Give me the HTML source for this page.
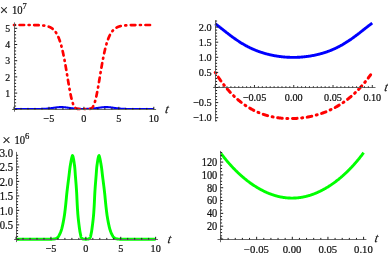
<!DOCTYPE html>
<html><head><meta charset="utf-8"><style>
html,body{margin:0;padding:0;background:#fff;}
body{width:388px;height:255px;overflow:hidden;}
svg{display:block;font-family:"Liberation Serif",serif;will-change:transform;}
</style></head><body>
<svg width="388" height="255" viewBox="0 0 388 255">
<path d="M14.00,109.00 L14.20,109.00 L14.40,109.00 L14.60,109.00 L14.80,109.00 L15.00,109.00 L15.20,109.00 L15.40,109.00 L15.60,109.00 L15.80,109.00 L16.00,109.00 L16.20,109.00 L16.40,109.00 L16.60,109.00 L16.80,109.00 L17.00,109.00 L17.20,109.00 L17.40,109.00 L17.60,109.00 L17.80,109.00 L18.00,109.00 L18.20,109.00 L18.40,109.00 L18.60,109.00 L18.80,109.00 L19.00,109.00 L19.20,109.00 L19.40,109.00 L19.60,109.00 L19.80,109.00 L20.00,109.00 L20.20,109.00 L20.40,109.00 L20.60,109.00 L20.80,109.00 L21.00,109.00 L21.20,109.00 L21.40,109.00 L21.60,109.00 L21.80,109.00 L22.00,109.00 L22.20,109.00 L22.40,109.00 L22.60,109.00 L22.80,109.00 L23.00,109.00 L23.20,109.00 L23.40,109.00 L23.60,109.00 L23.80,109.00 L24.00,109.00 L24.20,109.00 L24.40,109.00 L24.60,109.00 L24.80,109.00 L25.00,109.00 L25.20,109.00 L25.40,109.00 L25.60,109.00 L25.80,109.00 L26.00,109.00 L26.20,109.00 L26.40,109.00 L26.60,109.00 L26.80,109.00 L27.00,109.00 L27.20,109.00 L27.40,109.00 L27.60,109.00 L27.80,109.00 L28.00,109.00 L28.20,109.00 L28.40,109.00 L28.60,109.00 L28.80,109.00 L29.00,109.00 L29.20,109.00 L29.40,109.00 L29.60,109.00 L29.80,109.00 L30.00,109.00 L30.20,109.00 L30.40,109.00 L30.60,109.00 L30.80,109.00 L31.00,109.00 L31.20,109.00 L31.40,109.00 L31.60,109.00 L31.80,109.00 L32.00,109.00 L32.20,109.00 L32.40,109.00 L32.60,109.00 L32.80,109.00 L33.00,109.00 L33.20,109.00 L33.40,109.00 L33.60,109.00 L33.80,109.00 L34.00,109.00 L34.20,109.00 L34.40,108.99 L34.60,108.99 L34.80,108.99 L35.00,108.99 L35.20,108.99 L35.40,108.99 L35.60,108.99 L35.80,108.99 L36.00,108.99 L36.20,108.99 L36.40,108.99 L36.60,108.99 L36.80,108.99 L37.00,108.98 L37.20,108.98 L37.40,108.98 L37.60,108.98 L37.80,108.98 L38.00,108.98 L38.20,108.98 L38.40,108.97 L38.60,108.97 L38.80,108.97 L39.00,108.97 L39.20,108.96 L39.40,108.96 L39.60,108.96 L39.80,108.96 L40.00,108.95 L40.20,108.95 L40.40,108.95 L40.60,108.94 L40.80,108.94 L41.00,108.93 L41.20,108.93 L41.40,108.92 L41.60,108.92 L41.80,108.91 L42.00,108.91 L42.20,108.90 L42.40,108.90 L42.60,108.89 L42.80,108.88 L43.00,108.88 L43.20,108.87 L43.40,108.86 L43.60,108.85 L43.80,108.84 L44.00,108.83 L44.20,108.82 L44.40,108.81 L44.60,108.80 L44.80,108.79 L45.00,108.78 L45.20,108.77 L45.40,108.76 L45.60,108.74 L45.80,108.73 L46.00,108.71 L46.20,108.70 L46.40,108.69 L46.60,108.67 L46.80,108.65 L47.00,108.64 L47.20,108.62 L47.40,108.60 L47.60,108.58 L47.80,108.56 L48.00,108.54 L48.20,108.52 L48.40,108.50 L48.60,108.48 L48.80,108.46 L49.00,108.44 L49.20,108.42 L49.40,108.39 L49.60,108.37 L49.80,108.34 L50.00,108.32 L50.20,108.29 L50.40,108.27 L50.60,108.24 L50.80,108.22 L51.00,108.19 L51.20,108.16 L51.40,108.13 L51.60,108.11 L51.80,108.08 L52.00,108.05 L52.20,108.02 L52.40,107.99 L52.60,107.96 L52.80,107.93 L53.00,107.90 L53.20,107.87 L53.40,107.84 L53.60,107.81 L53.80,107.78 L54.00,107.75 L54.20,107.73 L54.40,107.70 L54.60,107.67 L54.80,107.64 L55.00,107.61 L55.20,107.58 L55.40,107.55 L55.60,107.53 L55.80,107.50 L56.00,107.47 L56.20,107.45 L56.40,107.42 L56.60,107.40 L56.80,107.38 L57.00,107.35 L57.20,107.33 L57.40,107.31 L57.60,107.29 L57.80,107.27 L58.00,107.25 L58.20,107.23 L58.40,107.22 L58.60,107.20 L58.80,107.18 L59.00,107.17 L59.20,107.16 L59.40,107.15 L59.60,107.14 L59.80,107.13 L60.00,107.12 L60.20,107.11 L60.40,107.11 L60.60,107.10 L60.80,107.10 L61.00,107.10 L61.20,107.10 L61.40,107.10 L61.60,107.10 L61.80,107.11 L62.00,107.11 L62.20,107.12 L62.40,107.12 L62.60,107.13 L62.80,107.14 L63.00,107.15 L63.20,107.16 L63.40,107.18 L63.60,107.19 L63.80,107.21 L64.00,107.22 L64.20,107.24 L64.40,107.26 L64.60,107.28 L64.80,107.30 L65.00,107.32 L65.20,107.34 L65.40,107.36 L65.60,107.39 L65.80,107.41 L66.00,107.44 L66.20,107.46 L66.40,107.49 L66.60,107.51 L66.80,107.54 L67.00,107.57 L67.20,107.60 L67.40,107.62 L67.60,107.65 L67.80,107.68 L68.00,107.71 L68.20,107.74 L68.40,107.77 L68.60,107.80 L68.80,107.83 L69.00,107.86 L69.20,107.89 L69.40,107.92 L69.60,107.95 L69.80,107.98 L70.00,108.01 L70.20,108.03 L70.40,108.06 L70.60,108.09 L70.80,108.12 L71.00,108.15 L71.20,108.18 L71.40,108.20 L71.60,108.23 L71.80,108.26 L72.00,108.28 L72.20,108.31 L72.40,108.33 L72.60,108.36 L72.80,108.38 L73.00,108.40 L73.20,108.43 L73.40,108.45 L73.60,108.47 L73.80,108.49 L74.00,108.51 L74.20,108.53 L74.40,108.55 L74.60,108.57 L74.80,108.59 L75.00,108.61 L75.20,108.63 L75.40,108.65 L75.60,108.66 L75.80,108.68 L76.00,108.69 L76.20,108.71 L76.40,108.72 L76.60,108.74 L76.80,108.75 L77.00,108.76 L77.20,108.77 L77.40,108.79 L77.60,108.80 L77.80,108.81 L78.00,108.82 L78.20,108.83 L78.40,108.84 L78.60,108.85 L78.80,108.86 L79.00,108.86 L79.20,108.87 L79.40,108.88 L79.60,108.89 L79.80,108.89 L80.00,108.90 L80.20,108.91 L80.40,108.91 L80.60,108.92 L80.80,108.92 L81.00,108.93 L81.20,108.93 L81.40,108.94 L81.60,108.94 L81.80,108.94 L82.00,108.95 L82.20,108.95 L82.40,108.95 L82.60,108.96 L82.80,108.96 L83.00,108.96 L83.20,108.97 L83.40,108.97 L83.60,108.97 L83.80,108.97 L84.00,108.97 L84.20,108.96 L84.40,108.96 L84.60,108.96 L84.80,108.96 L85.00,108.95 L85.20,108.95 L85.40,108.95 L85.60,108.94 L85.80,108.94 L86.00,108.93 L86.20,108.93 L86.40,108.92 L86.60,108.92 L86.80,108.91 L87.00,108.91 L87.20,108.90 L87.40,108.90 L87.60,108.89 L87.80,108.88 L88.00,108.88 L88.20,108.87 L88.40,108.86 L88.60,108.85 L88.80,108.84 L89.00,108.83 L89.20,108.82 L89.40,108.81 L89.60,108.80 L89.80,108.79 L90.00,108.78 L90.20,108.77 L90.40,108.76 L90.60,108.74 L90.80,108.73 L91.00,108.71 L91.20,108.70 L91.40,108.69 L91.60,108.67 L91.80,108.65 L92.00,108.64 L92.20,108.62 L92.40,108.60 L92.60,108.58 L92.80,108.56 L93.00,108.54 L93.20,108.52 L93.40,108.50 L93.60,108.48 L93.80,108.46 L94.00,108.44 L94.20,108.42 L94.40,108.39 L94.60,108.37 L94.80,108.34 L95.00,108.32 L95.20,108.29 L95.40,108.27 L95.60,108.24 L95.80,108.22 L96.00,108.19 L96.20,108.16 L96.40,108.13 L96.60,108.11 L96.80,108.08 L97.00,108.05 L97.20,108.02 L97.40,107.99 L97.60,107.96 L97.80,107.93 L98.00,107.90 L98.20,107.87 L98.40,107.84 L98.60,107.81 L98.80,107.78 L99.00,107.75 L99.20,107.73 L99.40,107.70 L99.60,107.67 L99.80,107.64 L100.00,107.61 L100.20,107.58 L100.40,107.55 L100.60,107.53 L100.80,107.50 L101.00,107.47 L101.20,107.45 L101.40,107.42 L101.60,107.40 L101.80,107.38 L102.00,107.35 L102.20,107.33 L102.40,107.31 L102.60,107.29 L102.80,107.27 L103.00,107.25 L103.20,107.23 L103.40,107.22 L103.60,107.20 L103.80,107.18 L104.00,107.17 L104.20,107.16 L104.40,107.15 L104.60,107.14 L104.80,107.13 L105.00,107.12 L105.20,107.11 L105.40,107.11 L105.60,107.10 L105.80,107.10 L106.00,107.10 L106.20,107.10 L106.40,107.10 L106.60,107.10 L106.80,107.11 L107.00,107.11 L107.20,107.12 L107.40,107.12 L107.60,107.13 L107.80,107.14 L108.00,107.15 L108.20,107.16 L108.40,107.18 L108.60,107.19 L108.80,107.21 L109.00,107.22 L109.20,107.24 L109.40,107.26 L109.60,107.28 L109.80,107.30 L110.00,107.32 L110.20,107.34 L110.40,107.36 L110.60,107.39 L110.80,107.41 L111.00,107.44 L111.20,107.46 L111.40,107.49 L111.60,107.51 L111.80,107.54 L112.00,107.57 L112.20,107.60 L112.40,107.62 L112.60,107.65 L112.80,107.68 L113.00,107.71 L113.20,107.74 L113.40,107.77 L113.60,107.80 L113.80,107.83 L114.00,107.86 L114.20,107.89 L114.40,107.92 L114.60,107.95 L114.80,107.98 L115.00,108.01 L115.20,108.03 L115.40,108.06 L115.60,108.09 L115.80,108.12 L116.00,108.15 L116.20,108.18 L116.40,108.20 L116.60,108.23 L116.80,108.26 L117.00,108.28 L117.20,108.31 L117.40,108.33 L117.60,108.36 L117.80,108.38 L118.00,108.40 L118.20,108.43 L118.40,108.45 L118.60,108.47 L118.80,108.49 L119.00,108.51 L119.20,108.53 L119.40,108.55 L119.60,108.57 L119.80,108.59 L120.00,108.61 L120.20,108.63 L120.40,108.65 L120.60,108.66 L120.80,108.68 L121.00,108.69 L121.20,108.71 L121.40,108.72 L121.60,108.74 L121.80,108.75 L122.00,108.76 L122.20,108.77 L122.40,108.79 L122.60,108.80 L122.80,108.81 L123.00,108.82 L123.20,108.83 L123.40,108.84 L123.60,108.85 L123.80,108.86 L124.00,108.86 L124.20,108.87 L124.40,108.88 L124.60,108.89 L124.80,108.89 L125.00,108.90 L125.20,108.91 L125.40,108.91 L125.60,108.92 L125.80,108.92 L126.00,108.93 L126.20,108.93 L126.40,108.94 L126.60,108.94 L126.80,108.94 L127.00,108.95 L127.20,108.95 L127.40,108.95 L127.60,108.96 L127.80,108.96 L128.00,108.96 L128.20,108.97 L128.40,108.97 L128.60,108.97 L128.80,108.97 L129.00,108.97 L129.20,108.98 L129.40,108.98 L129.60,108.98 L129.80,108.98 L130.00,108.98 L130.20,108.98 L130.40,108.99 L130.60,108.99 L130.80,108.99 L131.00,108.99 L131.20,108.99 L131.40,108.99 L131.60,108.99 L131.80,108.99 L132.00,108.99 L132.20,108.99 L132.40,108.99 L132.60,108.99 L132.80,108.99 L133.00,109.00 L133.20,109.00 L133.40,109.00 L133.60,109.00 L133.80,109.00 L134.00,109.00 L134.20,109.00 L134.40,109.00 L134.60,109.00 L134.80,109.00 L135.00,109.00 L135.20,109.00 L135.40,109.00 L135.60,109.00 L135.80,109.00 L136.00,109.00 L136.20,109.00 L136.40,109.00 L136.60,109.00 L136.80,109.00 L137.00,109.00 L137.20,109.00 L137.40,109.00 L137.60,109.00 L137.80,109.00 L138.00,109.00 L138.20,109.00 L138.40,109.00 L138.60,109.00 L138.80,109.00 L139.00,109.00 L139.20,109.00 L139.40,109.00 L139.60,109.00 L139.80,109.00 L140.00,109.00 L140.20,109.00 L140.40,109.00 L140.60,109.00 L140.80,109.00 L141.00,109.00 L141.20,109.00 L141.40,109.00 L141.60,109.00 L141.80,109.00 L142.00,109.00 L142.20,109.00 L142.40,109.00 L142.60,109.00 L142.80,109.00 L143.00,109.00 L143.20,109.00 L143.40,109.00 L143.60,109.00 L143.80,109.00 L144.00,109.00 L144.20,109.00 L144.40,109.00 L144.60,109.00 L144.80,109.00 L145.00,109.00 L145.20,109.00 L145.40,109.00 L145.60,109.00 L145.80,109.00 L146.00,109.00 L146.20,109.00 L146.40,109.00 L146.60,109.00 L146.80,109.00 L147.00,109.00 L147.20,109.00 L147.40,109.00 L147.60,109.00 L147.80,109.00 L148.00,109.00 L148.20,109.00 L148.40,109.00 L148.60,109.00 L148.80,109.00 L149.00,109.00 L149.20,109.00 L149.40,109.00 L149.60,109.00 L149.80,109.00 L150.00,109.00 L150.20,109.00 L150.40,109.00 L150.60,109.00 L150.80,109.00 L151.00,109.00 L151.20,109.00 L151.40,109.00 L151.60,109.00 L151.80,109.00 L152.00,109.00 L152.20,109.00 L152.40,109.00 L152.60,109.00 L152.80,109.00 L153.00,109.00 L153.20,109.00 L153.40,109.00 L153.60,109.00 L153.80,109.00" fill="none" stroke="#0000f4" stroke-width="2.1" stroke-linejoin="round"/>
<path d="M14.00,25.00 L14.20,25.00 L14.40,25.00 L14.60,25.00 L14.80,25.00 L15.00,25.00 L15.20,25.00 L15.40,25.00 L15.60,25.00 L15.80,25.00 L16.00,25.00 L16.20,25.00 L16.40,25.00 L16.60,25.00 L16.80,25.00 L17.00,25.00 L17.20,25.00 L17.40,25.00 L17.60,25.00 L17.80,25.00 L18.00,25.00 L18.20,25.00 L18.40,25.00 L18.60,25.00 L18.80,25.00 L19.00,25.00 L19.20,25.00 L19.40,25.00 L19.60,25.00 L19.80,25.00 L20.00,25.00 L20.20,25.00 L20.40,25.00 L20.60,25.00 L20.80,25.00 L21.00,25.00 L21.20,25.00 L21.40,25.00 L21.60,25.00 L21.80,25.00 L22.00,25.00 L22.20,25.00 L22.40,25.00 L22.60,25.00 L22.80,25.00 L23.00,25.01 L23.20,25.01 L23.40,25.01 L23.60,25.01 L23.80,25.01 L24.00,25.01 L24.20,25.01 L24.40,25.01 L24.60,25.01 L24.80,25.01 L25.00,25.01 L25.20,25.01 L25.40,25.01 L25.60,25.01 L25.80,25.01 L26.00,25.01 L26.20,25.01 L26.40,25.01 L26.60,25.01 L26.80,25.01 L27.00,25.01 L27.20,25.01 L27.40,25.01 L27.60,25.01 L27.80,25.02 L28.00,25.02 L28.20,25.02 L28.40,25.02 L28.60,25.02 L28.80,25.02 L29.00,25.02 L29.20,25.02 L29.40,25.02 L29.60,25.02 L29.80,25.02 L30.00,25.03 L30.20,25.03 L30.40,25.03 L30.60,25.03 L30.80,25.03 L31.00,25.03 L31.20,25.03 L31.40,25.04 L31.60,25.04 L31.80,25.04 L32.00,25.04 L32.20,25.04 L32.40,25.04 L32.60,25.05 L32.80,25.05 L33.00,25.05 L33.20,25.05 L33.40,25.06 L33.60,25.06 L33.80,25.06 L34.00,25.06 L34.20,25.07 L34.40,25.07 L34.60,25.07 L34.80,25.08 L35.00,25.08 L35.20,25.08 L35.40,25.09 L35.60,25.09 L35.80,25.10 L36.00,25.10 L36.20,25.11 L36.40,25.11 L36.60,25.12 L36.80,25.12 L37.00,25.13 L37.20,25.13 L37.40,25.14 L37.60,25.15 L37.80,25.15 L38.00,25.16 L38.20,25.17 L38.40,25.17 L38.60,25.18 L38.80,25.19 L39.00,25.20 L39.20,25.21 L39.40,25.22 L39.60,25.23 L39.80,25.24 L40.00,25.25 L40.20,25.26 L40.40,25.27 L40.60,25.28 L40.80,25.30 L41.00,25.31 L41.20,25.33 L41.40,25.34 L41.60,25.36 L41.80,25.37 L42.00,25.39 L42.20,25.41 L42.40,25.42 L42.60,25.44 L42.80,25.46 L43.00,25.48 L43.20,25.51 L43.40,25.53 L43.60,25.55 L43.80,25.58 L44.00,25.60 L44.20,25.63 L44.40,25.66 L44.60,25.69 L44.80,25.72 L45.00,25.75 L45.20,25.78 L45.40,25.82 L45.60,25.86 L45.80,25.89 L46.00,25.93 L46.20,25.98 L46.40,26.02 L46.60,26.06 L46.80,26.11 L47.00,26.16 L47.20,26.21 L47.40,26.26 L47.60,26.32 L47.80,26.38 L48.00,26.44 L48.20,26.50 L48.40,26.57 L48.60,26.64 L48.80,26.71 L49.00,26.78 L49.20,26.86 L49.40,26.94 L49.60,27.02 L49.80,27.11 L50.00,27.20 L50.20,27.30 L50.40,27.40 L50.60,27.50 L50.80,27.61 L51.00,27.72 L51.20,27.84 L51.40,27.96 L51.60,28.09 L51.80,28.22 L52.00,28.36 L52.20,28.50 L52.40,28.65 L52.60,28.80 L52.80,28.97 L53.00,29.13 L53.20,29.31 L53.40,29.49 L53.60,29.68 L53.80,29.87 L54.00,30.08 L54.20,30.29 L54.40,30.51 L54.60,30.74 L54.80,30.98 L55.00,31.22 L55.20,31.48 L55.40,31.75 L55.60,32.02 L55.80,32.31 L56.00,32.61 L56.20,32.92 L56.40,33.24 L56.60,33.57 L56.80,33.91 L57.00,34.27 L57.20,34.64 L57.40,35.02 L57.60,35.42 L57.80,35.83 L58.00,36.26 L58.20,36.70 L58.40,37.15 L58.60,37.63 L58.80,38.11 L59.00,38.62 L59.20,39.14 L59.40,39.68 L59.60,40.23 L59.80,40.81 L60.00,41.40 L60.20,42.01 L60.40,42.64 L60.60,43.28 L60.80,43.95 L61.00,44.64 L61.20,45.35 L61.40,46.07 L61.60,46.82 L61.80,47.59 L62.00,48.38 L62.20,49.19 L62.40,50.02 L62.60,50.87 L62.80,51.74 L63.00,52.63 L63.20,53.55 L63.40,54.48 L63.60,55.43 L63.80,56.41 L64.00,57.40 L64.20,58.41 L64.40,59.45 L64.60,60.49 L64.80,61.56 L65.00,62.64 L65.20,63.74 L65.40,64.86 L65.60,65.99 L65.80,67.13 L66.00,68.28 L66.20,69.45 L66.40,70.62 L66.60,71.81 L66.80,72.99 L67.00,74.19 L67.20,75.39 L67.40,76.59 L67.60,77.79 L67.80,78.99 L68.00,80.19 L68.20,81.38 L68.40,82.56 L68.60,83.74 L68.80,84.90 L69.00,86.05 L69.20,87.19 L69.40,88.31 L69.60,89.41 L69.80,90.49 L70.00,91.55 L70.20,92.58 L70.40,93.59 L70.60,94.57 L70.80,95.52 L71.00,96.44 L71.20,97.33 L71.40,98.18 L71.60,99.00 L71.80,99.79 L72.00,100.54 L72.20,101.25 L72.40,101.92 L72.60,102.56 L72.80,103.16 L73.00,103.73 L73.20,104.26 L73.40,104.75 L73.60,105.20 L73.80,105.62 L74.00,106.01 L74.20,106.37 L74.40,106.69 L74.60,106.99 L74.80,107.25 L75.00,107.49 L75.20,107.70 L75.40,107.89 L75.60,108.06 L75.80,108.21 L76.00,108.34 L76.20,108.45 L76.40,108.55 L76.60,108.63 L76.80,108.70 L77.00,108.76 L77.20,108.81 L77.40,108.85 L77.60,108.88 L77.80,108.91 L78.00,108.93 L78.20,108.95 L78.40,108.96 L78.60,108.97 L78.80,108.98 L79.00,108.98 L79.20,108.99 L79.40,108.99 L79.60,108.99 L79.80,109.00 L80.00,109.00 L80.20,109.00 L80.40,109.00 L80.60,109.00 L80.80,109.00 L81.00,109.00 L81.20,109.00 L81.40,109.00 L81.60,109.00 L81.80,109.00 L82.00,109.00 L82.20,109.00 L82.40,109.00 L82.60,109.00 L82.80,109.00 L83.00,109.00 L83.20,109.00 L83.40,109.00 L83.60,109.00 L83.80,109.00 L84.00,109.00 L84.20,109.00 L84.40,109.00 L84.60,109.00 L84.80,109.00 L85.00,109.00 L85.20,109.00 L85.40,109.00 L85.60,109.00 L85.80,109.00 L86.00,109.00 L86.20,109.00 L86.40,109.00 L86.60,109.00 L86.80,109.00 L87.00,109.00 L87.20,109.00 L87.40,109.00 L87.60,109.00 L87.80,108.99 L88.00,108.99 L88.20,108.99 L88.40,108.98 L88.60,108.97 L88.80,108.97 L89.00,108.95 L89.20,108.94 L89.40,108.92 L89.60,108.89 L89.80,108.86 L90.00,108.83 L90.20,108.78 L90.40,108.73 L90.60,108.66 L90.80,108.59 L91.00,108.50 L91.20,108.40 L91.40,108.28 L91.60,108.14 L91.80,107.98 L92.00,107.80 L92.20,107.60 L92.40,107.37 L92.60,107.12 L92.80,106.84 L93.00,106.53 L93.20,106.19 L93.40,105.82 L93.60,105.42 L93.80,104.98 L94.00,104.51 L94.20,104.00 L94.40,103.45 L94.60,102.87 L94.80,102.25 L95.00,101.59 L95.20,100.90 L95.40,100.17 L95.60,99.40 L95.80,98.60 L96.00,97.76 L96.20,96.89 L96.40,95.99 L96.60,95.05 L96.80,94.08 L97.00,93.09 L97.20,92.07 L97.40,91.02 L97.60,89.95 L97.80,88.86 L98.00,87.75 L98.20,86.62 L98.40,85.48 L98.60,84.32 L98.80,83.15 L99.00,81.97 L99.20,80.78 L99.40,79.59 L99.60,78.39 L99.80,77.19 L100.00,75.99 L100.20,74.79 L100.40,73.59 L100.60,72.40 L100.80,71.21 L101.00,70.03 L101.20,68.86 L101.40,67.70 L101.60,66.56 L101.80,65.42 L102.00,64.30 L102.20,63.19 L102.40,62.10 L102.60,61.03 L102.80,59.97 L103.00,58.93 L103.20,57.91 L103.40,56.90 L103.60,55.92 L103.80,54.96 L104.00,54.01 L104.20,53.09 L104.40,52.18 L104.60,51.30 L104.80,50.44 L105.00,49.60 L105.20,48.78 L105.40,47.98 L105.60,47.20 L105.80,46.44 L106.00,45.71 L106.20,44.99 L106.40,44.29 L106.60,43.62 L106.80,42.96 L107.00,42.32 L107.20,41.70 L107.40,41.10 L107.60,40.52 L107.80,39.95 L108.00,39.41 L108.20,38.88 L108.40,38.36 L108.60,37.87 L108.80,37.39 L109.00,36.93 L109.20,36.48 L109.40,36.04 L109.60,35.63 L109.80,35.22 L110.00,34.83 L110.20,34.45 L110.40,34.09 L110.60,33.74 L110.80,33.40 L111.00,33.07 L111.20,32.76 L111.40,32.46 L111.60,32.16 L111.80,31.88 L112.00,31.61 L112.20,31.35 L112.40,31.10 L112.60,30.86 L112.80,30.62 L113.00,30.40 L113.20,30.18 L113.40,29.97 L113.60,29.77 L113.80,29.58 L114.00,29.40 L114.20,29.22 L114.40,29.05 L114.60,28.88 L114.80,28.73 L115.00,28.57 L115.20,28.43 L115.40,28.29 L115.60,28.15 L115.80,28.02 L116.00,27.90 L116.20,27.78 L116.40,27.67 L116.60,27.56 L116.80,27.45 L117.00,27.35 L117.20,27.25 L117.40,27.16 L117.60,27.07 L117.80,26.98 L118.00,26.90 L118.20,26.82 L118.40,26.74 L118.60,26.67 L118.80,26.60 L119.00,26.53 L119.20,26.47 L119.40,26.41 L119.60,26.35 L119.80,26.29 L120.00,26.24 L120.20,26.18 L120.40,26.13 L120.60,26.09 L120.80,26.04 L121.00,26.00 L121.20,25.95 L121.40,25.91 L121.60,25.87 L121.80,25.84 L122.00,25.80 L122.20,25.77 L122.40,25.73 L122.60,25.70 L122.80,25.67 L123.00,25.64 L123.20,25.62 L123.40,25.59 L123.60,25.57 L123.80,25.54 L124.00,25.52 L124.20,25.50 L124.40,25.47 L124.60,25.45 L124.80,25.43 L125.00,25.42 L125.20,25.40 L125.40,25.38 L125.60,25.36 L125.80,25.35 L126.00,25.33 L126.20,25.32 L126.40,25.30 L126.60,25.29 L126.80,25.28 L127.00,25.27 L127.20,25.25 L127.40,25.24 L127.60,25.23 L127.80,25.22 L128.00,25.21 L128.20,25.20 L128.40,25.20 L128.60,25.19 L128.80,25.18 L129.00,25.17 L129.20,25.16 L129.40,25.16 L129.60,25.15 L129.80,25.14 L130.00,25.14 L130.20,25.13 L130.40,25.12 L130.60,25.12 L130.80,25.11 L131.00,25.11 L131.20,25.10 L131.40,25.10 L131.60,25.10 L131.80,25.09 L132.00,25.09 L132.20,25.08 L132.40,25.08 L132.60,25.08 L132.80,25.07 L133.00,25.07 L133.20,25.07 L133.40,25.06 L133.60,25.06 L133.80,25.06 L134.00,25.06 L134.20,25.05 L134.40,25.05 L134.60,25.05 L134.80,25.05 L135.00,25.04 L135.20,25.04 L135.40,25.04 L135.60,25.04 L135.80,25.04 L136.00,25.03 L136.20,25.03 L136.40,25.03 L136.60,25.03 L136.80,25.03 L137.00,25.03 L137.20,25.03 L137.40,25.03 L137.60,25.02 L137.80,25.02 L138.00,25.02 L138.20,25.02 L138.40,25.02 L138.60,25.02 L138.80,25.02 L139.00,25.02 L139.20,25.02 L139.40,25.02 L139.60,25.02 L139.80,25.01 L140.00,25.01 L140.20,25.01 L140.40,25.01 L140.60,25.01 L140.80,25.01 L141.00,25.01 L141.20,25.01 L141.40,25.01 L141.60,25.01 L141.80,25.01 L142.00,25.01 L142.20,25.01 L142.40,25.01 L142.60,25.01 L142.80,25.01 L143.00,25.01 L143.20,25.01 L143.40,25.01 L143.60,25.01 L143.80,25.01 L144.00,25.01 L144.20,25.01 L144.40,25.01 L144.60,25.00 L144.80,25.00 L145.00,25.00 L145.20,25.00 L145.40,25.00 L145.60,25.00 L145.80,25.00 L146.00,25.00 L146.20,25.00 L146.40,25.00 L146.60,25.00 L146.80,25.00 L147.00,25.00 L147.20,25.00 L147.40,25.00 L147.60,25.00 L147.80,25.00 L148.00,25.00 L148.20,25.00 L148.40,25.00 L148.60,25.00 L148.80,25.00 L149.00,25.00 L149.20,25.00 L149.40,25.00 L149.60,25.00 L149.80,25.00 L150.00,25.00 L150.20,25.00 L150.40,25.00 L150.60,25.00 L150.80,25.00 L151.00,25.00 L151.20,25.00 L151.40,25.00 L151.60,25.00 L151.80,25.00 L152.00,25.00 L152.20,25.00 L152.40,25.00 L152.60,25.00 L152.80,25.00 L153.00,25.00 L153.20,25.00 L153.40,25.00 L153.60,25.00 L153.80,25.00" fill="none" stroke="#ff0000" stroke-width="2.7" stroke-dasharray="1.0,4.55,4.55,4.55" stroke-dashoffset="0" stroke-linecap="round" stroke-linejoin="round"/>
<path d="M215.20,23.73 L215.59,24.02 L215.99,24.31 L216.38,24.60 L216.77,24.90 L217.17,25.20 L217.56,25.49 L217.96,25.79 L218.35,26.10 L218.74,26.40 L219.14,26.70 L219.53,27.01 L219.92,27.32 L220.32,27.62 L220.71,27.93 L221.11,28.24 L221.50,28.55 L221.89,28.86 L222.29,29.17 L222.68,29.48 L223.07,29.79 L223.47,30.10 L223.86,30.40 L224.26,30.71 L224.65,31.02 L225.04,31.33 L225.44,31.64 L225.83,31.95 L226.22,32.26 L226.62,32.56 L227.01,32.87 L227.41,33.17 L227.80,33.48 L228.19,33.78 L228.59,34.08 L228.98,34.39 L229.37,34.69 L229.77,34.98 L230.16,35.28 L230.56,35.58 L230.95,35.87 L231.34,36.17 L231.74,36.46 L232.13,36.75 L232.52,37.04 L232.92,37.33 L233.31,37.61 L233.71,37.90 L234.10,38.18 L234.49,38.46 L234.89,38.74 L235.28,39.01 L235.67,39.29 L236.07,39.56 L236.46,39.83 L236.86,40.10 L237.25,40.37 L237.64,40.63 L238.04,40.89 L238.43,41.15 L238.82,41.41 L239.22,41.67 L239.61,41.92 L240.01,42.17 L240.40,42.42 L240.79,42.67 L241.19,42.91 L241.58,43.16 L241.97,43.40 L242.37,43.64 L242.76,43.87 L243.16,44.11 L243.55,44.34 L243.94,44.57 L244.34,44.79 L244.73,45.02 L245.12,45.24 L245.52,45.46 L245.91,45.67 L246.31,45.89 L246.70,46.10 L247.09,46.31 L247.49,46.52 L247.88,46.72 L248.27,46.93 L248.67,47.13 L249.06,47.33 L249.45,47.52 L249.85,47.71 L250.24,47.91 L250.64,48.09 L251.03,48.28 L251.42,48.46 L251.82,48.65 L252.21,48.83 L252.60,49.00 L253.00,49.18 L253.39,49.35 L253.79,49.52 L254.18,49.69 L254.57,49.85 L254.97,50.02 L255.36,50.18 L255.75,50.34 L256.15,50.50 L256.54,50.65 L256.94,50.80 L257.33,50.95 L257.72,51.10 L258.12,51.25 L258.51,51.39 L258.90,51.54 L259.30,51.68 L259.69,51.81 L260.09,51.95 L260.48,52.08 L260.87,52.22 L261.27,52.35 L261.66,52.47 L262.05,52.60 L262.45,52.72 L262.84,52.85 L263.24,52.97 L263.63,53.09 L264.02,53.20 L264.42,53.32 L264.81,53.43 L265.20,53.54 L265.60,53.65 L265.99,53.76 L266.39,53.86 L266.78,53.97 L267.17,54.07 L267.57,54.17 L267.96,54.27 L268.35,54.37 L268.75,54.46 L269.14,54.56 L269.54,54.65 L269.93,54.74 L270.32,54.83 L270.72,54.92 L271.11,55.00 L271.50,55.09 L271.90,55.17 L272.29,55.25 L272.69,55.33 L273.08,55.41 L273.47,55.48 L273.87,55.56 L274.26,55.63 L274.65,55.70 L275.05,55.77 L275.44,55.84 L275.84,55.91 L276.23,55.98 L276.62,56.04 L277.02,56.10 L277.41,56.16 L277.80,56.22 L278.20,56.28 L278.59,56.34 L278.98,56.39 L279.38,56.45 L279.77,56.50 L280.17,56.55 L280.56,56.60 L280.95,56.65 L281.35,56.69 L281.74,56.74 L282.13,56.78 L282.53,56.82 L282.92,56.87 L283.32,56.90 L283.71,56.94 L284.10,56.98 L284.50,57.01 L284.89,57.05 L285.28,57.08 L285.68,57.11 L286.07,57.14 L286.47,57.16 L286.86,57.19 L287.25,57.21 L287.65,57.23 L288.04,57.26 L288.43,57.28 L288.83,57.29 L289.22,57.31 L289.62,57.32 L290.01,57.34 L290.40,57.35 L290.80,57.36 L291.19,57.37 L291.58,57.38 L291.98,57.38 L292.37,57.39 L292.77,57.39 L293.16,57.39 L293.55,57.39 L293.95,57.39 L294.34,57.39 L294.73,57.38 L295.13,57.37 L295.52,57.37 L295.92,57.36 L296.31,57.35 L296.70,57.33 L297.10,57.32 L297.49,57.30 L297.88,57.29 L298.28,57.27 L298.67,57.25 L299.07,57.23 L299.46,57.20 L299.85,57.18 L300.25,57.15 L300.64,57.13 L301.03,57.10 L301.43,57.07 L301.82,57.03 L302.22,57.00 L302.61,56.97 L303.00,56.93 L303.40,56.89 L303.79,56.85 L304.18,56.81 L304.58,56.77 L304.97,56.73 L305.37,56.68 L305.76,56.63 L306.15,56.58 L306.55,56.53 L306.94,56.48 L307.33,56.43 L307.73,56.38 L308.12,56.32 L308.52,56.26 L308.91,56.20 L309.30,56.14 L309.70,56.08 L310.09,56.02 L310.48,55.95 L310.88,55.89 L311.27,55.82 L311.66,55.75 L312.06,55.68 L312.45,55.61 L312.85,55.53 L313.24,55.46 L313.63,55.38 L314.03,55.30 L314.42,55.22 L314.81,55.14 L315.21,55.06 L315.60,54.97 L316.00,54.89 L316.39,54.80 L316.78,54.71 L317.18,54.62 L317.57,54.53 L317.96,54.43 L318.36,54.34 L318.75,54.24 L319.15,54.14 L319.54,54.04 L319.93,53.93 L320.33,53.83 L320.72,53.72 L321.11,53.62 L321.51,53.51 L321.90,53.39 L322.30,53.28 L322.69,53.16 L323.08,53.05 L323.48,52.93 L323.87,52.81 L324.26,52.68 L324.66,52.56 L325.05,52.43 L325.45,52.30 L325.84,52.17 L326.23,52.04 L326.63,51.91 L327.02,51.77 L327.41,51.63 L327.81,51.49 L328.20,51.35 L328.60,51.20 L328.99,51.05 L329.38,50.91 L329.78,50.75 L330.17,50.60 L330.56,50.44 L330.96,50.29 L331.35,50.13 L331.75,49.97 L332.14,49.80 L332.53,49.63 L332.93,49.47 L333.32,49.29 L333.71,49.12 L334.11,48.95 L334.50,48.77 L334.90,48.59 L335.29,48.40 L335.68,48.22 L336.08,48.03 L336.47,47.84 L336.86,47.65 L337.26,47.46 L337.65,47.26 L338.05,47.06 L338.44,46.86 L338.83,46.66 L339.23,46.45 L339.62,46.24 L340.01,46.03 L340.41,45.82 L340.80,45.60 L341.19,45.39 L341.59,45.17 L341.98,44.94 L342.38,44.72 L342.77,44.49 L343.16,44.26 L343.56,44.03 L343.95,43.80 L344.34,43.56 L344.74,43.32 L345.13,43.08 L345.53,42.84 L345.92,42.59 L346.31,42.34 L346.71,42.09 L347.10,41.84 L347.49,41.58 L347.89,41.33 L348.28,41.07 L348.68,40.81 L349.07,40.54 L349.46,40.28 L349.86,40.01 L350.25,39.74 L350.64,39.47 L351.04,39.20 L351.43,38.92 L351.83,38.65 L352.22,38.37 L352.61,38.09 L353.01,37.80 L353.40,37.52 L353.79,37.23 L354.19,36.94 L354.58,36.65 L354.98,36.36 L355.37,36.07 L355.76,35.78 L356.16,35.48 L356.55,35.19 L356.94,34.89 L357.34,34.59 L357.73,34.29 L358.13,33.99 L358.52,33.68 L358.91,33.38 L359.31,33.08 L359.70,32.77 L360.09,32.46 L360.49,32.16 L360.88,31.85 L361.28,31.54 L361.67,31.23 L362.06,30.92 L362.46,30.61 L362.85,30.30 L363.24,29.99 L363.64,29.68 L364.03,29.37 L364.43,29.06 L364.82,28.76 L365.21,28.45 L365.61,28.14 L366.00,27.83 L366.39,27.52 L366.79,27.21 L367.18,26.91 L367.58,26.60 L367.97,26.30 L368.36,26.00 L368.76,25.70 L369.15,25.40 L369.54,25.10 L369.94,24.80 L370.33,24.51 L370.73,24.22 L371.12,23.92 L371.51,23.64 L371.91,23.35 L372.30,23.07" fill="none" stroke="#0000ff" stroke-width="2.9" stroke-linejoin="round"/>
<path d="M215.20,72.45 L215.59,73.06 L215.98,73.67 L216.37,74.28 L216.76,74.88 L217.15,75.47 L217.54,76.06 L217.93,76.64 L218.32,77.22 L218.71,77.79 L219.09,78.35 L219.48,78.91 L219.87,79.47 L220.26,80.02 L220.65,80.56 L221.04,81.10 L221.43,81.63 L221.82,82.15 L222.21,82.68 L222.60,83.19 L222.99,83.70 L223.38,84.21 L223.77,84.71 L224.16,85.20 L224.55,85.69 L224.94,86.18 L225.33,86.66 L225.72,87.13 L226.11,87.60 L226.49,88.07 L226.88,88.53 L227.27,88.99 L227.66,89.44 L228.05,89.88 L228.44,90.32 L228.83,90.76 L229.22,91.19 L229.61,91.62 L230.00,92.04 L230.39,92.46 L230.78,92.87 L231.17,93.28 L231.56,93.68 L231.95,94.08 L232.34,94.48 L232.73,94.87 L233.12,95.26 L233.51,95.64 L233.89,96.02 L234.28,96.39 L234.67,96.76 L235.06,97.13 L235.45,97.49 L235.84,97.84 L236.23,98.20 L236.62,98.55 L237.01,98.89 L237.40,99.23 L237.79,99.57 L238.18,99.90 L238.57,100.23 L238.96,100.56 L239.35,100.88 L239.74,101.19 L240.13,101.51 L240.52,101.82 L240.91,102.12 L241.29,102.43 L241.68,102.73 L242.07,103.02 L242.46,103.31 L242.85,103.60 L243.24,103.88 L243.63,104.17 L244.02,104.44 L244.41,104.72 L244.80,104.99 L245.19,105.25 L245.58,105.52 L245.97,105.78 L246.36,106.03 L246.75,106.29 L247.14,106.54 L247.53,106.78 L247.92,107.03 L248.31,107.27 L248.69,107.50 L249.08,107.74 L249.47,107.97 L249.86,108.20 L250.25,108.42 L250.64,108.64 L251.03,108.86 L251.42,109.08 L251.81,109.29 L252.20,109.50 L252.59,109.71 L252.98,109.91 L253.37,110.11 L253.76,110.31 L254.15,110.50 L254.54,110.69 L254.93,110.88 L255.32,111.07 L255.71,111.25 L256.09,111.43 L256.48,111.61 L256.87,111.79 L257.26,111.96 L257.65,112.13 L258.04,112.30 L258.43,112.46 L258.82,112.63 L259.21,112.79 L259.60,112.94 L259.99,113.10 L260.38,113.25 L260.77,113.40 L261.16,113.55 L261.55,113.69 L261.94,113.83 L262.33,113.97 L262.72,114.11 L263.11,114.24 L263.49,114.38 L263.88,114.51 L264.27,114.63 L264.66,114.76 L265.05,114.88 L265.44,115.00 L265.83,115.12 L266.22,115.24 L266.61,115.35 L267.00,115.46 L267.39,115.57 L267.78,115.68 L268.17,115.79 L268.56,115.89 L268.95,115.99 L269.34,116.09 L269.73,116.19 L270.12,116.28 L270.51,116.37 L270.89,116.46 L271.28,116.55 L271.67,116.64 L272.06,116.72 L272.45,116.80 L272.84,116.89 L273.23,116.96 L273.62,117.04 L274.01,117.11 L274.40,117.19 L274.79,117.26 L275.18,117.33 L275.57,117.39 L275.96,117.46 L276.35,117.52 L276.74,117.58 L277.13,117.64 L277.52,117.70 L277.91,117.75 L278.29,117.81 L278.68,117.86 L279.07,117.91 L279.46,117.96 L279.85,118.00 L280.24,118.05 L280.63,118.09 L281.02,118.13 L281.41,118.17 L281.80,118.21 L282.19,118.24 L282.58,118.28 L282.97,118.31 L283.36,118.34 L283.75,118.37 L284.14,118.40 L284.53,118.42 L284.92,118.44 L285.31,118.47 L285.69,118.49 L286.08,118.51 L286.47,118.52 L286.86,118.54 L287.25,118.55 L287.64,118.56 L288.03,118.57 L288.42,118.58 L288.81,118.59 L289.20,118.60 L289.59,118.60 L289.98,118.60 L290.37,118.60 L290.76,118.60 L291.15,118.60 L291.54,118.60 L291.93,118.59 L292.32,118.58 L292.71,118.57 L293.09,118.56 L293.48,118.55 L293.87,118.54 L294.26,118.52 L294.65,118.51 L295.04,118.49 L295.43,118.47 L295.82,118.45 L296.21,118.42 L296.60,118.40 L296.99,118.37 L297.38,118.34 L297.77,118.31 L298.16,118.28 L298.55,118.25 L298.94,118.22 L299.33,118.18 L299.72,118.14 L300.11,118.10 L300.49,118.06 L300.88,118.02 L301.27,117.98 L301.66,117.93 L302.05,117.89 L302.44,117.84 L302.83,117.79 L303.22,117.74 L303.61,117.68 L304.00,117.63 L304.39,117.57 L304.78,117.51 L305.17,117.45 L305.56,117.39 L305.95,117.33 L306.34,117.27 L306.73,117.20 L307.12,117.13 L307.51,117.06 L307.89,116.99 L308.28,116.92 L308.67,116.85 L309.06,116.77 L309.45,116.69 L309.84,116.61 L310.23,116.53 L310.62,116.45 L311.01,116.37 L311.40,116.28 L311.79,116.19 L312.18,116.10 L312.57,116.01 L312.96,115.92 L313.35,115.83 L313.74,115.73 L314.13,115.63 L314.52,115.53 L314.91,115.43 L315.29,115.33 L315.68,115.22 L316.07,115.11 L316.46,115.01 L316.85,114.90 L317.24,114.78 L317.63,114.67 L318.02,114.55 L318.41,114.44 L318.80,114.32 L319.19,114.19 L319.58,114.07 L319.97,113.95 L320.36,113.82 L320.75,113.69 L321.14,113.56 L321.53,113.43 L321.92,113.29 L322.31,113.15 L322.69,113.01 L323.08,112.87 L323.47,112.73 L323.86,112.59 L324.25,112.44 L324.64,112.29 L325.03,112.14 L325.42,111.99 L325.81,111.83 L326.20,111.67 L326.59,111.51 L326.98,111.35 L327.37,111.19 L327.76,111.02 L328.15,110.85 L328.54,110.68 L328.93,110.51 L329.32,110.34 L329.71,110.16 L330.09,109.98 L330.48,109.80 L330.87,109.62 L331.26,109.43 L331.65,109.24 L332.04,109.05 L332.43,108.86 L332.82,108.66 L333.21,108.46 L333.60,108.26 L333.99,108.06 L334.38,107.86 L334.77,107.65 L335.16,107.44 L335.55,107.22 L335.94,107.01 L336.33,106.79 L336.72,106.57 L337.11,106.35 L337.49,106.12 L337.88,105.89 L338.27,105.66 L338.66,105.43 L339.05,105.19 L339.44,104.95 L339.83,104.71 L340.22,104.47 L340.61,104.22 L341.00,103.97 L341.39,103.72 L341.78,103.46 L342.17,103.20 L342.56,102.94 L342.95,102.68 L343.34,102.41 L343.73,102.14 L344.12,101.87 L344.51,101.59 L344.89,101.31 L345.28,101.03 L345.67,100.74 L346.06,100.45 L346.45,100.16 L346.84,99.87 L347.23,99.57 L347.62,99.27 L348.01,98.96 L348.40,98.66 L348.79,98.35 L349.18,98.03 L349.57,97.71 L349.96,97.39 L350.35,97.07 L350.74,96.74 L351.13,96.41 L351.52,96.07 L351.91,95.73 L352.29,95.39 L352.68,95.05 L353.07,94.70 L353.46,94.35 L353.85,93.99 L354.24,93.63 L354.63,93.27 L355.02,92.90 L355.41,92.53 L355.80,92.15 L356.19,91.77 L356.58,91.39 L356.97,91.01 L357.36,90.62 L357.75,90.22 L358.14,89.82 L358.53,89.42 L358.92,89.02 L359.31,88.61 L359.69,88.19 L360.08,87.77 L360.47,87.35 L360.86,86.92 L361.25,86.49 L361.64,86.06 L362.03,85.62 L362.42,85.17 L362.81,84.73 L363.20,84.27 L363.59,83.82 L363.98,83.36 L364.37,82.89 L364.76,82.42 L365.15,81.95 L365.54,81.47 L365.93,80.98 L366.32,80.49 L366.71,80.00 L367.09,79.50 L367.48,79.00 L367.87,78.49 L368.26,77.98 L368.65,77.46 L369.04,76.94 L369.43,76.42 L369.82,75.88 L370.21,75.35 L370.60,74.81" fill="none" stroke="#ff0000" stroke-width="3.0" stroke-dasharray="1.0,4.6,4.65,4.6" stroke-dashoffset="0" stroke-linecap="round" stroke-linejoin="round"/>
<path d="M16.05,239.20 L16.15,239.20 L16.25,239.20 L16.35,239.20 L16.45,239.20 L16.55,239.20 L16.65,239.20 L16.75,239.20 L16.85,239.20 L16.95,239.20 L17.05,239.20 L17.15,239.20 L17.25,239.20 L17.35,239.20 L17.45,239.20 L17.55,239.20 L17.65,239.20 L17.75,239.20 L17.85,239.20 L17.95,239.20 L18.05,239.20 L18.15,239.20 L18.25,239.20 L18.35,239.20 L18.44,239.20 L18.54,239.20 L18.64,239.20 L18.74,239.20 L18.84,239.20 L18.94,239.20 L19.04,239.20 L19.14,239.20 L19.24,239.20 L19.34,239.20 L19.44,239.20 L19.54,239.20 L19.64,239.20 L19.74,239.20 L19.84,239.20 L19.94,239.20 L20.04,239.20 L20.14,239.20 L20.24,239.20 L20.34,239.20 L20.44,239.20 L20.54,239.20 L20.64,239.20 L20.74,239.20 L20.84,239.20 L20.94,239.20 L21.04,239.20 L21.14,239.20 L21.24,239.20 L21.34,239.20 L21.44,239.20 L21.54,239.20 L21.64,239.20 L21.74,239.20 L21.84,239.20 L21.94,239.20 L22.04,239.20 L22.14,239.20 L22.24,239.20 L22.34,239.20 L22.44,239.20 L22.54,239.20 L22.64,239.20 L22.74,239.20 L22.84,239.20 L22.94,239.20 L23.03,239.20 L23.13,239.20 L23.23,239.20 L23.33,239.20 L23.43,239.20 L23.53,239.20 L23.63,239.20 L23.73,239.20 L23.83,239.20 L23.93,239.20 L24.03,239.20 L24.13,239.20 L24.23,239.20 L24.33,239.20 L24.43,239.20 L24.53,239.20 L24.63,239.20 L24.73,239.20 L24.83,239.20 L24.93,239.20 L25.03,239.20 L25.13,239.20 L25.23,239.20 L25.33,239.20 L25.43,239.20 L25.53,239.20 L25.63,239.20 L25.73,239.20 L25.83,239.20 L25.93,239.20 L26.03,239.20 L26.13,239.20 L26.23,239.20 L26.33,239.20 L26.43,239.20 L26.53,239.20 L26.63,239.20 L26.73,239.20 L26.83,239.20 L26.93,239.20 L27.03,239.20 L27.13,239.20 L27.23,239.20 L27.33,239.20 L27.43,239.20 L27.53,239.20 L27.63,239.20 L27.72,239.20 L27.82,239.20 L27.92,239.20 L28.02,239.20 L28.12,239.20 L28.22,239.20 L28.32,239.20 L28.42,239.20 L28.52,239.20 L28.62,239.20 L28.72,239.20 L28.82,239.20 L28.92,239.20 L29.02,239.20 L29.12,239.20 L29.22,239.20 L29.32,239.20 L29.42,239.20 L29.52,239.20 L29.62,239.20 L29.72,239.20 L29.82,239.20 L29.92,239.20 L30.02,239.20 L30.12,239.20 L30.22,239.20 L30.32,239.20 L30.42,239.20 L30.52,239.20 L30.62,239.20 L30.72,239.20 L30.82,239.20 L30.92,239.20 L31.02,239.20 L31.12,239.20 L31.22,239.20 L31.32,239.20 L31.42,239.20 L31.52,239.20 L31.62,239.20 L31.72,239.20 L31.82,239.20 L31.92,239.20 L32.02,239.20 L32.12,239.20 L32.22,239.20 L32.32,239.20 L32.41,239.20 L32.51,239.20 L32.61,239.20 L32.71,239.20 L32.81,239.20 L32.91,239.20 L33.01,239.20 L33.11,239.20 L33.21,239.20 L33.31,239.20 L33.41,239.20 L33.51,239.20 L33.61,239.20 L33.71,239.20 L33.81,239.20 L33.91,239.20 L34.01,239.20 L34.11,239.20 L34.21,239.20 L34.31,239.20 L34.41,239.20 L34.51,239.20 L34.61,239.20 L34.71,239.20 L34.81,239.20 L34.91,239.20 L35.01,239.20 L35.11,239.20 L35.21,239.20 L35.31,239.20 L35.41,239.20 L35.51,239.20 L35.61,239.20 L35.71,239.20 L35.81,239.20 L35.91,239.20 L36.01,239.20 L36.11,239.20 L36.21,239.20 L36.31,239.20 L36.41,239.20 L36.51,239.20 L36.61,239.20 L36.71,239.20 L36.81,239.20 L36.91,239.20 L37.00,239.20 L37.10,239.20 L37.20,239.20 L37.30,239.20 L37.40,239.20 L37.50,239.20 L37.60,239.20 L37.70,239.20 L37.80,239.20 L37.90,239.20 L38.00,239.20 L38.10,239.20 L38.20,239.20 L38.30,239.20 L38.40,239.20 L38.50,239.20 L38.60,239.20 L38.70,239.20 L38.80,239.20 L38.90,239.20 L39.00,239.20 L39.10,239.20 L39.20,239.20 L39.30,239.20 L39.40,239.20 L39.50,239.20 L39.60,239.20 L39.70,239.20 L39.80,239.20 L39.90,239.20 L40.00,239.20 L40.10,239.20 L40.20,239.20 L40.30,239.20 L40.40,239.20 L40.50,239.20 L40.60,239.20 L40.70,239.20 L40.80,239.20 L40.90,239.20 L41.00,239.20 L41.10,239.20 L41.20,239.20 L41.30,239.20 L41.40,239.20 L41.50,239.20 L41.60,239.20 L41.69,239.20 L41.79,239.20 L41.89,239.20 L41.99,239.20 L42.09,239.20 L42.19,239.20 L42.29,239.20 L42.39,239.20 L42.49,239.20 L42.59,239.20 L42.69,239.20 L42.79,239.20 L42.89,239.20 L42.99,239.20 L43.09,239.20 L43.19,239.20 L43.29,239.20 L43.39,239.20 L43.49,239.20 L43.59,239.20 L43.69,239.20 L43.79,239.20 L43.89,239.20 L43.99,239.20 L44.09,239.20 L44.19,239.20 L44.29,239.20 L44.39,239.20 L44.49,239.20 L44.59,239.20 L44.69,239.20 L44.79,239.20 L44.89,239.20 L44.99,239.20 L45.09,239.20 L45.19,239.20 L45.29,239.20 L45.39,239.20 L45.49,239.20 L45.59,239.20 L45.69,239.20 L45.79,239.20 L45.89,239.20 L45.99,239.20 L46.09,239.20 L46.19,239.20 L46.29,239.20 L46.38,239.20 L46.48,239.20 L46.58,239.20 L46.68,239.20 L46.78,239.20 L46.88,239.20 L46.98,239.20 L47.08,239.20 L47.18,239.20 L47.28,239.20 L47.38,239.20 L47.48,239.20 L47.58,239.20 L47.68,239.20 L47.78,239.20 L47.88,239.20 L47.98,239.20 L48.08,239.20 L48.18,239.20 L48.28,239.20 L48.38,239.20 L48.48,239.20 L48.58,239.20 L48.68,239.20 L48.78,239.20 L48.88,239.20 L48.98,239.20 L49.08,239.20 L49.18,239.20 L49.28,239.20 L49.38,239.20 L49.48,239.20 L49.58,239.20 L49.68,239.20 L49.78,239.20 L49.88,239.20 L49.98,239.20 L50.08,239.20 L50.18,239.20 L50.28,239.20 L50.38,239.20 L50.48,239.20 L50.58,239.20 L50.68,239.20 L50.78,239.20 L50.88,239.20 L50.97,239.20 L51.07,239.20 L51.17,239.20 L51.27,239.20 L51.37,239.20 L51.47,239.20 L51.57,239.20 L51.67,239.20 L51.77,239.19 L51.87,239.19 L51.97,239.19 L52.07,239.18 L52.17,239.18 L52.27,239.17 L52.37,239.17 L52.47,239.16 L52.57,239.15 L52.67,239.14 L52.77,239.14 L52.87,239.13 L52.97,239.12 L53.07,239.11 L53.17,239.10 L53.27,239.09 L53.37,239.08 L53.47,239.07 L53.57,239.05 L53.67,239.04 L53.77,239.03 L53.87,239.02 L53.97,239.01 L54.07,238.99 L54.17,238.98 L54.27,238.97 L54.37,238.95 L54.47,238.94 L54.57,238.93 L54.67,238.91 L54.77,238.89 L54.87,238.88 L54.97,238.86 L55.07,238.83 L55.17,238.81 L55.27,238.79 L55.37,238.76 L55.47,238.74 L55.57,238.71 L55.66,238.68 L55.76,238.65 L55.86,238.62 L55.96,238.59 L56.06,238.55 L56.16,238.52 L56.26,238.48 L56.36,238.44 L56.46,238.40 L56.56,238.36 L56.66,238.31 L56.76,238.27 L56.86,238.22 L56.96,238.17 L57.06,238.11 L57.16,238.04 L57.26,237.96 L57.36,237.87 L57.46,237.78 L57.56,237.67 L57.66,237.56 L57.76,237.44 L57.86,237.32 L57.96,237.19 L58.06,237.05 L58.16,236.90 L58.26,236.75 L58.36,236.60 L58.46,236.44 L58.56,236.28 L58.66,236.11 L58.76,235.93 L58.86,235.76 L58.96,235.58 L59.06,235.40 L59.16,235.22 L59.26,235.03 L59.36,234.84 L59.46,234.65 L59.56,234.46 L59.66,234.27 L59.76,234.08 L59.86,233.89 L59.96,233.69 L60.06,233.49 L60.16,233.27 L60.26,233.05 L60.35,232.81 L60.45,232.57 L60.55,232.33 L60.65,232.07 L60.75,231.81 L60.85,231.54 L60.95,231.26 L61.05,230.98 L61.15,230.69 L61.25,230.39 L61.35,230.08 L61.45,229.77 L61.55,229.45 L61.65,229.13 L61.75,228.78 L61.85,228.42 L61.95,228.03 L62.05,227.63 L62.15,227.22 L62.25,226.80 L62.35,226.36 L62.45,225.92 L62.55,225.48 L62.65,225.03 L62.75,224.57 L62.85,224.11 L62.95,223.63 L63.05,223.15 L63.15,222.65 L63.25,222.13 L63.35,221.61 L63.45,221.08 L63.55,220.54 L63.65,219.99 L63.75,219.44 L63.85,218.87 L63.95,218.29 L64.05,217.70 L64.15,217.10 L64.25,216.48 L64.35,215.83 L64.45,215.17 L64.55,214.48 L64.65,213.76 L64.75,213.02 L64.85,212.24 L64.94,211.45 L65.04,210.63 L65.14,209.80 L65.24,208.94 L65.34,208.08 L65.44,207.20 L65.54,206.31 L65.64,205.40 L65.74,204.46 L65.84,203.49 L65.94,202.48 L66.04,201.44 L66.14,200.40 L66.24,199.34 L66.34,198.28 L66.44,197.23 L66.54,196.20 L66.64,195.18 L66.74,194.19 L66.84,193.24 L66.94,192.33 L67.04,191.45 L67.14,190.58 L67.24,189.72 L67.34,188.88 L67.44,188.05 L67.54,187.23 L67.64,186.42 L67.74,185.62 L67.84,184.83 L67.94,184.05 L68.04,183.26 L68.14,182.49 L68.24,181.71 L68.34,180.93 L68.44,180.15 L68.54,179.37 L68.64,178.59 L68.74,177.80 L68.84,177.01 L68.94,176.21 L69.04,175.38 L69.14,174.54 L69.24,173.68 L69.34,172.82 L69.44,171.96 L69.54,171.11 L69.63,170.27 L69.73,169.46 L69.83,168.66 L69.93,167.91 L70.03,167.19 L70.13,166.52 L70.23,165.90 L70.33,165.29 L70.43,164.69 L70.53,164.10 L70.63,163.52 L70.73,162.95 L70.83,162.39 L70.93,161.84 L71.03,161.30 L71.13,160.78 L71.23,160.27 L71.33,159.77 L71.43,159.29 L71.53,158.83 L71.63,158.38 L71.73,157.95 L71.83,157.54 L71.93,157.15 L72.03,156.78 L72.13,156.43 L72.23,156.10 L72.33,155.80 L72.43,155.60 L72.53,155.65 L72.63,155.76 L72.73,155.93 L72.83,156.15 L72.93,156.42 L73.03,156.74 L73.13,157.10 L73.23,157.51 L73.33,157.96 L73.43,158.45 L73.53,158.97 L73.63,159.53 L73.73,160.11 L73.83,160.73 L73.93,161.36 L74.03,162.02 L74.13,162.70 L74.22,163.39 L74.32,164.10 L74.42,164.82 L74.52,165.55 L74.62,166.28 L74.72,167.17 L74.82,168.22 L74.92,169.41 L75.02,170.71 L75.12,172.06 L75.22,173.44 L75.32,174.82 L75.42,176.15 L75.52,177.41 L75.62,178.65 L75.72,179.88 L75.82,181.11 L75.92,182.34 L76.02,183.59 L76.12,184.88 L76.22,186.20 L76.32,187.58 L76.42,189.02 L76.52,190.53 L76.62,192.13 L76.72,193.93 L76.82,195.94 L76.92,198.06 L77.02,200.22 L77.12,202.34 L77.22,204.33 L77.32,206.11 L77.42,207.79 L77.52,209.42 L77.62,210.98 L77.72,212.44 L77.82,213.79 L77.92,215.00 L78.02,216.11 L78.12,217.16 L78.22,218.16 L78.32,219.11 L78.42,220.02 L78.52,220.89 L78.62,221.73 L78.72,222.55 L78.82,223.35 L78.91,224.13 L79.01,224.91 L79.11,225.69 L79.21,226.46 L79.31,227.23 L79.41,227.98 L79.51,228.71 L79.61,229.42 L79.71,230.11 L79.81,230.77 L79.91,231.40 L80.01,231.99 L80.11,232.55 L80.21,233.06 L80.31,233.56 L80.41,234.06 L80.51,234.55 L80.61,235.03 L80.71,235.49 L80.81,235.92 L80.91,236.33 L81.01,236.70 L81.11,237.03 L81.21,237.31 L81.31,237.54 L81.41,237.71 L81.51,237.86 L81.61,237.99 L81.71,238.12 L81.81,238.24 L81.91,238.35 L82.01,238.46 L82.11,238.56 L82.21,238.65 L82.31,238.73 L82.41,238.80 L82.51,238.86 L82.61,238.91 L82.71,238.95 L82.81,238.98 L82.91,239.00 L83.01,239.01 L83.11,239.03 L83.21,239.04 L83.31,239.05 L83.41,239.07 L83.51,239.08 L83.60,239.09 L83.70,239.10 L83.80,239.11 L83.90,239.12 L84.00,239.13 L84.10,239.13 L84.20,239.14 L84.30,239.15 L84.40,239.16 L84.50,239.16 L84.60,239.17 L84.70,239.17 L84.80,239.18 L84.90,239.18 L85.00,239.19 L85.10,239.19 L85.20,239.19 L85.30,239.20 L85.40,239.20 L85.50,239.20 L85.60,239.20 L85.70,239.20 L85.80,239.20 L85.90,239.20 L86.00,239.20 L86.10,239.20 L86.20,239.20 L86.30,239.19 L86.40,239.19 L86.50,239.19 L86.60,239.18 L86.70,239.18 L86.80,239.17 L86.90,239.17 L87.00,239.16 L87.10,239.16 L87.20,239.15 L87.30,239.14 L87.40,239.13 L87.50,239.13 L87.60,239.12 L87.70,239.11 L87.80,239.10 L87.90,239.09 L88.00,239.08 L88.10,239.07 L88.19,239.05 L88.29,239.04 L88.39,239.03 L88.49,239.01 L88.59,239.00 L88.69,238.98 L88.79,238.95 L88.89,238.91 L88.99,238.86 L89.09,238.80 L89.19,238.73 L89.29,238.65 L89.39,238.56 L89.49,238.46 L89.59,238.35 L89.69,238.24 L89.79,238.12 L89.89,237.99 L89.99,237.85 L90.09,237.71 L90.19,237.54 L90.29,237.31 L90.39,237.03 L90.49,236.70 L90.59,236.33 L90.69,235.92 L90.79,235.49 L90.89,235.03 L90.99,234.55 L91.09,234.06 L91.19,233.56 L91.29,233.06 L91.39,232.54 L91.49,231.99 L91.59,231.39 L91.69,230.77 L91.79,230.10 L91.89,229.42 L91.99,228.71 L92.09,227.97 L92.19,227.22 L92.29,226.46 L92.39,225.69 L92.49,224.91 L92.59,224.13 L92.69,223.34 L92.79,222.54 L92.88,221.73 L92.98,220.89 L93.08,220.02 L93.18,219.11 L93.28,218.16 L93.38,217.16 L93.48,216.11 L93.58,214.99 L93.68,213.78 L93.78,212.44 L93.88,210.97 L93.98,209.42 L94.08,207.79 L94.18,206.11 L94.28,204.32 L94.38,202.33 L94.48,200.21 L94.58,198.05 L94.68,195.93 L94.78,193.92 L94.88,192.12 L94.98,190.52 L95.08,189.01 L95.18,187.57 L95.28,186.20 L95.38,184.87 L95.48,183.59 L95.58,182.33 L95.68,181.10 L95.78,179.87 L95.88,178.65 L95.98,177.41 L96.08,176.14 L96.18,174.81 L96.28,173.44 L96.38,172.06 L96.48,170.70 L96.58,169.41 L96.68,168.22 L96.78,167.16 L96.88,166.28 L96.98,165.54 L97.08,164.82 L97.18,164.10 L97.28,163.39 L97.38,162.70 L97.48,162.02 L97.57,161.36 L97.67,160.72 L97.77,160.11 L97.87,159.53 L97.97,158.97 L98.07,158.45 L98.17,157.96 L98.27,157.51 L98.37,157.10 L98.47,156.73 L98.57,156.42 L98.67,156.14 L98.77,155.92 L98.87,155.76 L98.97,155.65 L99.07,155.60 L99.17,155.80 L99.27,156.11 L99.37,156.43 L99.47,156.78 L99.57,157.15 L99.67,157.54 L99.77,157.95 L99.87,158.38 L99.97,158.83 L100.07,159.29 L100.17,159.77 L100.27,160.27 L100.37,160.78 L100.47,161.30 L100.57,161.84 L100.67,162.39 L100.77,162.95 L100.87,163.52 L100.97,164.11 L101.07,164.70 L101.17,165.29 L101.27,165.90 L101.37,166.52 L101.47,167.19 L101.57,167.91 L101.67,168.67 L101.77,169.46 L101.87,170.28 L101.97,171.12 L102.07,171.97 L102.16,172.83 L102.26,173.69 L102.36,174.54 L102.46,175.39 L102.56,176.21 L102.66,177.01 L102.76,177.81 L102.86,178.59 L102.96,179.38 L103.06,180.16 L103.16,180.93 L103.26,181.71 L103.36,182.49 L103.46,183.27 L103.56,184.05 L103.66,184.84 L103.76,185.63 L103.86,186.43 L103.96,187.24 L104.06,188.05 L104.16,188.88 L104.26,189.72 L104.36,190.58 L104.46,191.45 L104.56,192.34 L104.66,193.25 L104.76,194.20 L104.86,195.19 L104.96,196.20 L105.06,197.24 L105.16,198.29 L105.26,199.35 L105.36,200.40 L105.46,201.45 L105.56,202.48 L105.66,203.49 L105.76,204.47 L105.86,205.41 L105.96,206.31 L106.06,207.20 L106.16,208.08 L106.26,208.95 L106.36,209.80 L106.46,210.64 L106.56,211.45 L106.66,212.25 L106.76,213.02 L106.85,213.77 L106.95,214.48 L107.05,215.17 L107.15,215.84 L107.25,216.48 L107.35,217.10 L107.45,217.71 L107.55,218.30 L107.65,218.87 L107.75,219.44 L107.85,219.99 L107.95,220.54 L108.05,221.08 L108.15,221.62 L108.25,222.14 L108.35,222.65 L108.45,223.15 L108.55,223.64 L108.65,224.11 L108.75,224.58 L108.85,225.03 L108.95,225.48 L109.05,225.93 L109.15,226.37 L109.25,226.80 L109.35,227.22 L109.45,227.64 L109.55,228.03 L109.65,228.42 L109.75,228.78 L109.85,229.13 L109.95,229.46 L110.05,229.77 L110.15,230.08 L110.25,230.39 L110.35,230.69 L110.45,230.98 L110.55,231.26 L110.65,231.54 L110.75,231.81 L110.85,232.07 L110.95,232.33 L111.05,232.57 L111.15,232.81 L111.25,233.05 L111.35,233.27 L111.44,233.49 L111.54,233.69 L111.64,233.89 L111.74,234.08 L111.84,234.27 L111.94,234.46 L112.04,234.65 L112.14,234.84 L112.24,235.03 L112.34,235.22 L112.44,235.40 L112.54,235.58 L112.64,235.76 L112.74,235.94 L112.84,236.11 L112.94,236.28 L113.04,236.44 L113.14,236.60 L113.24,236.75 L113.34,236.90 L113.44,237.05 L113.54,237.19 L113.64,237.32 L113.74,237.44 L113.84,237.56 L113.94,237.67 L114.04,237.78 L114.14,237.87 L114.24,237.96 L114.34,238.04 L114.44,238.11 L114.54,238.17 L114.64,238.22 L114.74,238.27 L114.84,238.31 L114.94,238.36 L115.04,238.40 L115.14,238.44 L115.24,238.48 L115.34,238.52 L115.44,238.55 L115.54,238.59 L115.64,238.62 L115.74,238.65 L115.84,238.68 L115.94,238.71 L116.04,238.74 L116.13,238.76 L116.23,238.79 L116.33,238.81 L116.43,238.83 L116.53,238.86 L116.63,238.88 L116.73,238.89 L116.83,238.91 L116.93,238.93 L117.03,238.94 L117.13,238.95 L117.23,238.97 L117.33,238.98 L117.43,238.99 L117.53,239.01 L117.63,239.02 L117.73,239.03 L117.83,239.04 L117.93,239.05 L118.03,239.07 L118.13,239.08 L118.23,239.09 L118.33,239.10 L118.43,239.11 L118.53,239.12 L118.63,239.13 L118.73,239.14 L118.83,239.14 L118.93,239.15 L119.03,239.16 L119.13,239.17 L119.23,239.17 L119.33,239.18 L119.43,239.18 L119.53,239.19 L119.63,239.19 L119.73,239.19 L119.83,239.20 L119.93,239.20 L120.03,239.20 L120.13,239.20 L120.23,239.20 L120.33,239.20 L120.43,239.20 L120.53,239.20 L120.63,239.20 L120.73,239.20 L120.82,239.20 L120.92,239.20 L121.02,239.20 L121.12,239.20 L121.22,239.20 L121.32,239.20 L121.42,239.20 L121.52,239.20 L121.62,239.20 L121.72,239.20 L121.82,239.20 L121.92,239.20 L122.02,239.20 L122.12,239.20 L122.22,239.20 L122.32,239.20 L122.42,239.20 L122.52,239.20 L122.62,239.20 L122.72,239.20 L122.82,239.20 L122.92,239.20 L123.02,239.20 L123.12,239.20 L123.22,239.20 L123.32,239.20 L123.42,239.20 L123.52,239.20 L123.62,239.20 L123.72,239.20 L123.82,239.20 L123.92,239.20 L124.02,239.20 L124.12,239.20 L124.22,239.20 L124.32,239.20 L124.42,239.20 L124.52,239.20 L124.62,239.20 L124.72,239.20 L124.82,239.20 L124.92,239.20 L125.02,239.20 L125.12,239.20 L125.22,239.20 L125.32,239.20 L125.41,239.20 L125.51,239.20 L125.61,239.20 L125.71,239.20 L125.81,239.20 L125.91,239.20 L126.01,239.20 L126.11,239.20 L126.21,239.20 L126.31,239.20 L126.41,239.20 L126.51,239.20 L126.61,239.20 L126.71,239.20 L126.81,239.20 L126.91,239.20 L127.01,239.20 L127.11,239.20 L127.21,239.20 L127.31,239.20 L127.41,239.20 L127.51,239.20 L127.61,239.20 L127.71,239.20 L127.81,239.20 L127.91,239.20 L128.01,239.20 L128.11,239.20 L128.21,239.20 L128.31,239.20 L128.41,239.20 L128.51,239.20 L128.61,239.20 L128.71,239.20 L128.81,239.20 L128.91,239.20 L129.01,239.20 L129.11,239.20 L129.21,239.20 L129.31,239.20 L129.41,239.20 L129.51,239.20 L129.61,239.20 L129.71,239.20 L129.81,239.20 L129.91,239.20 L130.01,239.20 L130.10,239.20 L130.20,239.20 L130.30,239.20 L130.40,239.20 L130.50,239.20 L130.60,239.20 L130.70,239.20 L130.80,239.20 L130.90,239.20 L131.00,239.20 L131.10,239.20 L131.20,239.20 L131.30,239.20 L131.40,239.20 L131.50,239.20 L131.60,239.20 L131.70,239.20 L131.80,239.20 L131.90,239.20 L132.00,239.20 L132.10,239.20 L132.20,239.20 L132.30,239.20 L132.40,239.20 L132.50,239.20 L132.60,239.20 L132.70,239.20 L132.80,239.20 L132.90,239.20 L133.00,239.20 L133.10,239.20 L133.20,239.20 L133.30,239.20 L133.40,239.20 L133.50,239.20 L133.60,239.20 L133.70,239.20 L133.80,239.20 L133.90,239.20 L134.00,239.20 L134.10,239.20 L134.20,239.20 L134.30,239.20 L134.40,239.20 L134.50,239.20 L134.60,239.20 L134.70,239.20 L134.79,239.20 L134.89,239.20 L134.99,239.20 L135.09,239.20 L135.19,239.20 L135.29,239.20 L135.39,239.20 L135.49,239.20 L135.59,239.20 L135.69,239.20 L135.79,239.20 L135.89,239.20 L135.99,239.20 L136.09,239.20 L136.19,239.20 L136.29,239.20 L136.39,239.20 L136.49,239.20 L136.59,239.20 L136.69,239.20 L136.79,239.20 L136.89,239.20 L136.99,239.20 L137.09,239.20 L137.19,239.20 L137.29,239.20 L137.39,239.20 L137.49,239.20 L137.59,239.20 L137.69,239.20 L137.79,239.20 L137.89,239.20 L137.99,239.20 L138.09,239.20 L138.19,239.20 L138.29,239.20 L138.39,239.20 L138.49,239.20 L138.59,239.20 L138.69,239.20 L138.79,239.20 L138.89,239.20 L138.99,239.20 L139.09,239.20 L139.19,239.20 L139.29,239.20 L139.38,239.20 L139.48,239.20 L139.58,239.20 L139.68,239.20 L139.78,239.20 L139.88,239.20 L139.98,239.20 L140.08,239.20 L140.18,239.20 L140.28,239.20 L140.38,239.20 L140.48,239.20 L140.58,239.20 L140.68,239.20 L140.78,239.20 L140.88,239.20 L140.98,239.20 L141.08,239.20 L141.18,239.20 L141.28,239.20 L141.38,239.20 L141.48,239.20 L141.58,239.20 L141.68,239.20 L141.78,239.20 L141.88,239.20 L141.98,239.20 L142.08,239.20 L142.18,239.20 L142.28,239.20 L142.38,239.20 L142.48,239.20 L142.58,239.20 L142.68,239.20 L142.78,239.20 L142.88,239.20 L142.98,239.20 L143.08,239.20 L143.18,239.20 L143.28,239.20 L143.38,239.20 L143.48,239.20 L143.58,239.20 L143.68,239.20 L143.78,239.20 L143.88,239.20 L143.98,239.20 L144.07,239.20 L144.17,239.20 L144.27,239.20 L144.37,239.20 L144.47,239.20 L144.57,239.20 L144.67,239.20 L144.77,239.20 L144.87,239.20 L144.97,239.20 L145.07,239.20 L145.17,239.20 L145.27,239.20 L145.37,239.20 L145.47,239.20 L145.57,239.20 L145.67,239.20 L145.77,239.20 L145.87,239.20 L145.97,239.20 L146.07,239.20 L146.17,239.20 L146.27,239.20 L146.37,239.20 L146.47,239.20 L146.57,239.20 L146.67,239.20 L146.77,239.20 L146.87,239.20 L146.97,239.20 L147.07,239.20 L147.17,239.20 L147.27,239.20 L147.37,239.20 L147.47,239.20 L147.57,239.20 L147.67,239.20 L147.77,239.20 L147.87,239.20 L147.97,239.20 L148.07,239.20 L148.17,239.20 L148.27,239.20 L148.37,239.20 L148.47,239.20 L148.57,239.20 L148.67,239.20 L148.76,239.20 L148.86,239.20 L148.96,239.20 L149.06,239.20 L149.16,239.20 L149.26,239.20 L149.36,239.20 L149.46,239.20 L149.56,239.20 L149.66,239.20 L149.76,239.20 L149.86,239.20 L149.96,239.20 L150.06,239.20 L150.16,239.20 L150.26,239.20 L150.36,239.20 L150.46,239.20 L150.56,239.20 L150.66,239.20 L150.76,239.20 L150.86,239.20 L150.96,239.20 L151.06,239.20 L151.16,239.20 L151.26,239.20 L151.36,239.20 L151.46,239.20 L151.56,239.20 L151.66,239.20 L151.76,239.20 L151.86,239.20 L151.96,239.20 L152.06,239.20 L152.16,239.20 L152.26,239.20 L152.36,239.20 L152.46,239.20 L152.56,239.20 L152.66,239.20 L152.76,239.20 L152.86,239.20 L152.96,239.20 L153.06,239.20 L153.16,239.20 L153.26,239.20 L153.35,239.20 L153.45,239.20 L153.55,239.20 L153.65,239.20 L153.75,239.20 L153.85,239.20 L153.95,239.20 L154.05,239.20 L154.15,239.20 L154.25,239.20 L154.35,239.20 L154.45,239.20 L154.55,239.20 L154.65,239.20 L154.75,239.20 L154.85,239.20 L154.95,239.20 L155.05,239.20 L155.15,239.20 L155.25,239.20 L155.35,239.20 L155.45,239.20 L155.55,239.20 L155.65,239.20" fill="none" stroke="#00ff00" stroke-width="2.9" stroke-linejoin="round"/>
<path d="M221.00,153.40 L221.36,153.88 L221.71,154.36 L222.07,154.83 L222.43,155.30 L222.79,155.76 L223.14,156.23 L223.50,156.69 L223.86,157.14 L224.22,157.59 L224.57,158.04 L224.93,158.49 L225.29,158.93 L225.65,159.37 L226.00,159.81 L226.36,160.24 L226.72,160.67 L227.08,161.09 L227.43,161.52 L227.79,161.94 L228.15,162.35 L228.51,162.77 L228.86,163.18 L229.22,163.59 L229.58,163.99 L229.93,164.39 L230.29,164.79 L230.65,165.19 L231.01,165.58 L231.36,165.97 L231.72,166.36 L232.08,166.74 L232.44,167.13 L232.79,167.50 L233.15,167.88 L233.51,168.25 L233.87,168.62 L234.22,168.99 L234.58,169.36 L234.94,169.72 L235.30,170.08 L235.65,170.44 L236.01,170.79 L236.37,171.14 L236.73,171.49 L237.08,171.84 L237.44,172.19 L237.80,172.53 L238.15,172.87 L238.51,173.20 L238.87,173.54 L239.23,173.87 L239.58,174.20 L239.94,174.53 L240.30,174.85 L240.66,175.17 L241.01,175.49 L241.37,175.81 L241.73,176.12 L242.09,176.43 L242.44,176.74 L242.80,177.05 L243.16,177.36 L243.52,177.66 L243.87,177.96 L244.23,178.26 L244.59,178.55 L244.95,178.85 L245.30,179.14 L245.66,179.43 L246.02,179.71 L246.37,180.00 L246.73,180.28 L247.09,180.56 L247.45,180.83 L247.80,181.11 L248.16,181.38 L248.52,181.65 L248.88,181.92 L249.23,182.19 L249.59,182.45 L249.95,182.71 L250.31,182.97 L250.66,183.23 L251.02,183.48 L251.38,183.73 L251.74,183.98 L252.09,184.23 L252.45,184.48 L252.81,184.72 L253.17,184.96 L253.52,185.20 L253.88,185.44 L254.24,185.67 L254.59,185.90 L254.95,186.13 L255.31,186.36 L255.67,186.59 L256.02,186.81 L256.38,187.03 L256.74,187.25 L257.10,187.47 L257.45,187.68 L257.81,187.90 L258.17,188.11 L258.53,188.32 L258.88,188.52 L259.24,188.73 L259.60,188.93 L259.96,189.13 L260.31,189.32 L260.67,189.52 L261.03,189.71 L261.39,189.90 L261.74,190.09 L262.10,190.28 L262.46,190.46 L262.82,190.64 L263.17,190.82 L263.53,191.00 L263.89,191.18 L264.24,191.35 L264.60,191.52 L264.96,191.69 L265.32,191.86 L265.67,192.02 L266.03,192.19 L266.39,192.35 L266.75,192.50 L267.10,192.66 L267.46,192.81 L267.82,192.97 L268.18,193.12 L268.53,193.26 L268.89,193.41 L269.25,193.55 L269.61,193.69 L269.96,193.83 L270.32,193.97 L270.68,194.10 L271.04,194.23 L271.39,194.36 L271.75,194.49 L272.11,194.62 L272.46,194.74 L272.82,194.86 L273.18,194.98 L273.54,195.10 L273.89,195.21 L274.25,195.32 L274.61,195.43 L274.97,195.54 L275.32,195.65 L275.68,195.75 L276.04,195.85 L276.40,195.95 L276.75,196.05 L277.11,196.14 L277.47,196.23 L277.83,196.32 L278.18,196.41 L278.54,196.50 L278.90,196.58 L279.26,196.66 L279.61,196.74 L279.97,196.82 L280.33,196.89 L280.68,196.96 L281.04,197.03 L281.40,197.10 L281.76,197.17 L282.11,197.23 L282.47,197.29 L282.83,197.35 L283.19,197.41 L283.54,197.46 L283.90,197.51 L284.26,197.56 L284.62,197.61 L284.97,197.66 L285.33,197.70 L285.69,197.74 L286.05,197.78 L286.40,197.82 L286.76,197.85 L287.12,197.88 L287.48,197.91 L287.83,197.94 L288.19,197.96 L288.55,197.99 L288.90,198.01 L289.26,198.03 L289.62,198.04 L289.98,198.06 L290.33,198.07 L290.69,198.08 L291.05,198.09 L291.41,198.09 L291.76,198.09 L292.12,198.09 L292.48,198.09 L292.84,198.09 L293.19,198.08 L293.55,198.07 L293.91,198.06 L294.27,198.05 L294.62,198.04 L294.98,198.02 L295.34,198.00 L295.70,197.98 L296.05,197.95 L296.41,197.93 L296.77,197.90 L297.12,197.87 L297.48,197.83 L297.84,197.80 L298.20,197.76 L298.55,197.72 L298.91,197.68 L299.27,197.64 L299.63,197.59 L299.98,197.54 L300.34,197.49 L300.70,197.44 L301.06,197.38 L301.41,197.32 L301.77,197.26 L302.13,197.20 L302.49,197.14 L302.84,197.07 L303.20,197.00 L303.56,196.93 L303.92,196.86 L304.27,196.78 L304.63,196.70 L304.99,196.62 L305.34,196.54 L305.70,196.46 L306.06,196.37 L306.42,196.28 L306.77,196.19 L307.13,196.10 L307.49,196.00 L307.85,195.90 L308.20,195.80 L308.56,195.70 L308.92,195.60 L309.28,195.49 L309.63,195.38 L309.99,195.27 L310.35,195.16 L310.71,195.04 L311.06,194.93 L311.42,194.81 L311.78,194.68 L312.14,194.56 L312.49,194.43 L312.85,194.31 L313.21,194.17 L313.56,194.04 L313.92,193.91 L314.28,193.77 L314.64,193.63 L314.99,193.49 L315.35,193.34 L315.71,193.20 L316.07,193.05 L316.42,192.90 L316.78,192.75 L317.14,192.59 L317.50,192.44 L317.85,192.28 L318.21,192.11 L318.57,191.95 L318.93,191.79 L319.28,191.62 L319.64,191.45 L320.00,191.28 L320.36,191.10 L320.71,190.92 L321.07,190.75 L321.43,190.56 L321.78,190.38 L322.14,190.20 L322.50,190.01 L322.86,189.82 L323.21,189.63 L323.57,189.43 L323.93,189.24 L324.29,189.04 L324.64,188.84 L325.00,188.63 L325.36,188.43 L325.72,188.22 L326.07,188.01 L326.43,187.80 L326.79,187.59 L327.15,187.37 L327.50,187.15 L327.86,186.93 L328.22,186.71 L328.58,186.49 L328.93,186.26 L329.29,186.03 L329.65,185.80 L330.01,185.57 L330.36,185.33 L330.72,185.09 L331.08,184.85 L331.43,184.61 L331.79,184.37 L332.15,184.12 L332.51,183.87 L332.86,183.62 L333.22,183.37 L333.58,183.11 L333.94,182.85 L334.29,182.59 L334.65,182.33 L335.01,182.07 L335.37,181.80 L335.72,181.53 L336.08,181.26 L336.44,180.99 L336.80,180.71 L337.15,180.43 L337.51,180.15 L337.87,179.87 L338.23,179.59 L338.58,179.30 L338.94,179.01 L339.30,178.72 L339.65,178.42 L340.01,178.13 L340.37,177.83 L340.73,177.53 L341.08,177.22 L341.44,176.92 L341.80,176.61 L342.16,176.30 L342.51,175.98 L342.87,175.67 L343.23,175.35 L343.59,175.03 L343.94,174.71 L344.30,174.38 L344.66,174.05 L345.02,173.72 L345.37,173.39 L345.73,173.05 L346.09,172.72 L346.45,172.38 L346.80,172.03 L347.16,171.69 L347.52,171.34 L347.87,170.99 L348.23,170.64 L348.59,170.28 L348.95,169.92 L349.30,169.56 L349.66,169.20 L350.02,168.83 L350.38,168.46 L350.73,168.09 L351.09,167.71 L351.45,167.34 L351.81,166.96 L352.16,166.57 L352.52,166.19 L352.88,165.80 L353.24,165.41 L353.59,165.01 L353.95,164.62 L354.31,164.22 L354.67,163.81 L355.02,163.41 L355.38,163.00 L355.74,162.58 L356.09,162.17 L356.45,161.75 L356.81,161.33 L357.17,160.91 L357.52,160.48 L357.88,160.05 L358.24,159.61 L358.60,159.18 L358.95,158.74 L359.31,158.29 L359.67,157.84 L360.03,157.39 L360.38,156.94 L360.74,156.48 L361.10,156.02 L361.46,155.56 L361.81,155.09 L362.17,154.62 L362.53,154.14 L362.89,153.67 L363.24,153.18 L363.60,152.70" fill="none" stroke="#00ff00" stroke-width="2.9" stroke-linejoin="round"/>
<line x1="14.50" y1="22.40" x2="14.50" y2="111.70" stroke="#6a6a6a" stroke-width="1.00"/>
<line x1="12.10" y1="109.50" x2="156.10" y2="109.50" stroke="#6a6a6a" stroke-width="1.00"/>
<line x1="14.50" y1="109.30" x2="17.20" y2="109.30" stroke="#1c1c1c" stroke-width="1.00"/>
<line x1="14.50" y1="106.06" x2="16.10" y2="106.06" stroke="#1c1c1c" stroke-width="1.00"/>
<line x1="14.50" y1="102.82" x2="16.10" y2="102.82" stroke="#1c1c1c" stroke-width="1.00"/>
<line x1="14.50" y1="99.58" x2="16.10" y2="99.58" stroke="#1c1c1c" stroke-width="1.00"/>
<line x1="14.50" y1="96.34" x2="16.10" y2="96.34" stroke="#1c1c1c" stroke-width="1.00"/>
<line x1="14.50" y1="93.10" x2="17.20" y2="93.10" stroke="#1c1c1c" stroke-width="1.00"/>
<line x1="14.50" y1="89.86" x2="16.10" y2="89.86" stroke="#1c1c1c" stroke-width="1.00"/>
<line x1="14.50" y1="86.62" x2="16.10" y2="86.62" stroke="#1c1c1c" stroke-width="1.00"/>
<line x1="14.50" y1="83.38" x2="16.10" y2="83.38" stroke="#1c1c1c" stroke-width="1.00"/>
<line x1="14.50" y1="80.14" x2="16.10" y2="80.14" stroke="#1c1c1c" stroke-width="1.00"/>
<line x1="14.50" y1="76.90" x2="17.20" y2="76.90" stroke="#1c1c1c" stroke-width="1.00"/>
<line x1="14.50" y1="73.66" x2="16.10" y2="73.66" stroke="#1c1c1c" stroke-width="1.00"/>
<line x1="14.50" y1="70.42" x2="16.10" y2="70.42" stroke="#1c1c1c" stroke-width="1.00"/>
<line x1="14.50" y1="67.18" x2="16.10" y2="67.18" stroke="#1c1c1c" stroke-width="1.00"/>
<line x1="14.50" y1="63.94" x2="16.10" y2="63.94" stroke="#1c1c1c" stroke-width="1.00"/>
<line x1="14.50" y1="60.70" x2="17.20" y2="60.70" stroke="#1c1c1c" stroke-width="1.00"/>
<line x1="14.50" y1="57.46" x2="16.10" y2="57.46" stroke="#1c1c1c" stroke-width="1.00"/>
<line x1="14.50" y1="54.22" x2="16.10" y2="54.22" stroke="#1c1c1c" stroke-width="1.00"/>
<line x1="14.50" y1="50.98" x2="16.10" y2="50.98" stroke="#1c1c1c" stroke-width="1.00"/>
<line x1="14.50" y1="47.74" x2="16.10" y2="47.74" stroke="#1c1c1c" stroke-width="1.00"/>
<line x1="14.50" y1="44.50" x2="17.20" y2="44.50" stroke="#1c1c1c" stroke-width="1.00"/>
<line x1="14.50" y1="41.26" x2="16.10" y2="41.26" stroke="#1c1c1c" stroke-width="1.00"/>
<line x1="14.50" y1="38.02" x2="16.10" y2="38.02" stroke="#1c1c1c" stroke-width="1.00"/>
<line x1="14.50" y1="34.78" x2="16.10" y2="34.78" stroke="#1c1c1c" stroke-width="1.00"/>
<line x1="14.50" y1="31.54" x2="16.10" y2="31.54" stroke="#1c1c1c" stroke-width="1.00"/>
<line x1="14.50" y1="28.30" x2="17.20" y2="28.30" stroke="#1c1c1c" stroke-width="1.00"/>
<line x1="14.50" y1="25.06" x2="16.10" y2="25.06" stroke="#1c1c1c" stroke-width="1.00"/>
<text transform="translate(10.20,96.70) scale(1,1.000)" text-anchor="end" font-size="9.80" fill="#111111" stroke="#111111" stroke-width="0.22" >1</text>
<text transform="translate(10.20,80.50) scale(1,1.000)" text-anchor="end" font-size="9.80" fill="#111111" stroke="#111111" stroke-width="0.22" >2</text>
<text transform="translate(10.20,64.30) scale(1,1.000)" text-anchor="end" font-size="9.80" fill="#111111" stroke="#111111" stroke-width="0.22" >3</text>
<text transform="translate(10.20,48.10) scale(1,1.000)" text-anchor="end" font-size="9.80" fill="#111111" stroke="#111111" stroke-width="0.22" >4</text>
<text transform="translate(10.20,31.90) scale(1,1.000)" text-anchor="end" font-size="9.80" fill="#111111" stroke="#111111" stroke-width="0.22" >5</text>
<line x1="14.00" y1="109.50" x2="14.00" y2="106.80" stroke="#1c1c1c" stroke-width="1.00"/>
<line x1="20.99" y1="109.50" x2="20.99" y2="107.90" stroke="#1c1c1c" stroke-width="1.00"/>
<line x1="27.98" y1="109.50" x2="27.98" y2="107.90" stroke="#1c1c1c" stroke-width="1.00"/>
<line x1="34.97" y1="109.50" x2="34.97" y2="107.90" stroke="#1c1c1c" stroke-width="1.00"/>
<line x1="41.96" y1="109.50" x2="41.96" y2="107.90" stroke="#1c1c1c" stroke-width="1.00"/>
<line x1="48.95" y1="109.50" x2="48.95" y2="106.80" stroke="#1c1c1c" stroke-width="1.00"/>
<line x1="55.94" y1="109.50" x2="55.94" y2="107.90" stroke="#1c1c1c" stroke-width="1.00"/>
<line x1="62.93" y1="109.50" x2="62.93" y2="107.90" stroke="#1c1c1c" stroke-width="1.00"/>
<line x1="69.92" y1="109.50" x2="69.92" y2="107.90" stroke="#1c1c1c" stroke-width="1.00"/>
<line x1="76.91" y1="109.50" x2="76.91" y2="107.90" stroke="#1c1c1c" stroke-width="1.00"/>
<line x1="83.90" y1="109.50" x2="83.90" y2="106.80" stroke="#1c1c1c" stroke-width="1.00"/>
<line x1="90.89" y1="109.50" x2="90.89" y2="107.90" stroke="#1c1c1c" stroke-width="1.00"/>
<line x1="97.88" y1="109.50" x2="97.88" y2="107.90" stroke="#1c1c1c" stroke-width="1.00"/>
<line x1="104.87" y1="109.50" x2="104.87" y2="107.90" stroke="#1c1c1c" stroke-width="1.00"/>
<line x1="111.86" y1="109.50" x2="111.86" y2="107.90" stroke="#1c1c1c" stroke-width="1.00"/>
<line x1="118.85" y1="109.50" x2="118.85" y2="106.80" stroke="#1c1c1c" stroke-width="1.00"/>
<line x1="125.84" y1="109.50" x2="125.84" y2="107.90" stroke="#1c1c1c" stroke-width="1.00"/>
<line x1="132.83" y1="109.50" x2="132.83" y2="107.90" stroke="#1c1c1c" stroke-width="1.00"/>
<line x1="139.82" y1="109.50" x2="139.82" y2="107.90" stroke="#1c1c1c" stroke-width="1.00"/>
<line x1="146.81" y1="109.50" x2="146.81" y2="107.90" stroke="#1c1c1c" stroke-width="1.00"/>
<line x1="153.80" y1="109.50" x2="153.80" y2="106.80" stroke="#1c1c1c" stroke-width="1.00"/>
<text transform="translate(48.95,121.80) scale(1,1.000)" text-anchor="middle" font-size="10.20" fill="#111111" stroke="#111111" stroke-width="0.22" >−5</text>
<text transform="translate(83.90,121.80) scale(1,1.000)" text-anchor="middle" font-size="10.20" fill="#111111" stroke="#111111" stroke-width="0.22" >0</text>
<text transform="translate(118.85,121.80) scale(1,1.000)" text-anchor="middle" font-size="10.20" fill="#111111" stroke="#111111" stroke-width="0.22" >5</text>
<text transform="translate(153.80,121.80) scale(1,1.000)" text-anchor="middle" font-size="10.20" fill="#111111" stroke="#111111" stroke-width="0.22" >10</text>
<text transform="translate(166.40,112.60) scale(1,1.120) skewX(-12.0)" text-anchor="middle" font-size="11.20" fill="#111111" stroke="#111111" stroke-width="0.22" font-style="italic">t</text>
<text transform="translate(-0.20,15.30) scale(1,0.950)" text-anchor="start" font-size="15.00" fill="#111111" stroke="#111111" stroke-width="0.22" >&#215;</text>
<text transform="translate(12.00,13.60) scale(1,1.130)" text-anchor="start" font-size="10.60" fill="#111111" stroke="#111111" stroke-width="0.22" >10</text>
<text transform="translate(22.40,8.60) scale(1,1.000)" text-anchor="start" font-size="8.60" fill="#111111" stroke="#111111" stroke-width="0.22" >7</text>
<line x1="215.50" y1="20.20" x2="215.50" y2="121.50" stroke="#6a6a6a" stroke-width="1.00"/>
<line x1="213.10" y1="87.50" x2="375.50" y2="87.50" stroke="#6a6a6a" stroke-width="1.00"/>
<line x1="215.50" y1="120.72" x2="217.10" y2="120.72" stroke="#1c1c1c" stroke-width="1.00"/>
<line x1="215.50" y1="117.70" x2="218.20" y2="117.70" stroke="#1c1c1c" stroke-width="1.00"/>
<line x1="215.50" y1="114.68" x2="217.10" y2="114.68" stroke="#1c1c1c" stroke-width="1.00"/>
<line x1="215.50" y1="111.66" x2="217.10" y2="111.66" stroke="#1c1c1c" stroke-width="1.00"/>
<line x1="215.50" y1="108.64" x2="217.10" y2="108.64" stroke="#1c1c1c" stroke-width="1.00"/>
<line x1="215.50" y1="105.62" x2="217.10" y2="105.62" stroke="#1c1c1c" stroke-width="1.00"/>
<line x1="215.50" y1="102.60" x2="218.20" y2="102.60" stroke="#1c1c1c" stroke-width="1.00"/>
<line x1="215.50" y1="99.58" x2="217.10" y2="99.58" stroke="#1c1c1c" stroke-width="1.00"/>
<line x1="215.50" y1="96.56" x2="217.10" y2="96.56" stroke="#1c1c1c" stroke-width="1.00"/>
<line x1="215.50" y1="93.54" x2="217.10" y2="93.54" stroke="#1c1c1c" stroke-width="1.00"/>
<line x1="215.50" y1="90.52" x2="217.10" y2="90.52" stroke="#1c1c1c" stroke-width="1.00"/>
<line x1="215.50" y1="87.50" x2="218.20" y2="87.50" stroke="#1c1c1c" stroke-width="1.00"/>
<line x1="215.50" y1="84.48" x2="217.10" y2="84.48" stroke="#1c1c1c" stroke-width="1.00"/>
<line x1="215.50" y1="81.46" x2="217.10" y2="81.46" stroke="#1c1c1c" stroke-width="1.00"/>
<line x1="215.50" y1="78.44" x2="217.10" y2="78.44" stroke="#1c1c1c" stroke-width="1.00"/>
<line x1="215.50" y1="75.42" x2="217.10" y2="75.42" stroke="#1c1c1c" stroke-width="1.00"/>
<line x1="215.50" y1="72.40" x2="218.20" y2="72.40" stroke="#1c1c1c" stroke-width="1.00"/>
<line x1="215.50" y1="69.38" x2="217.10" y2="69.38" stroke="#1c1c1c" stroke-width="1.00"/>
<line x1="215.50" y1="66.36" x2="217.10" y2="66.36" stroke="#1c1c1c" stroke-width="1.00"/>
<line x1="215.50" y1="63.34" x2="217.10" y2="63.34" stroke="#1c1c1c" stroke-width="1.00"/>
<line x1="215.50" y1="60.32" x2="217.10" y2="60.32" stroke="#1c1c1c" stroke-width="1.00"/>
<line x1="215.50" y1="57.30" x2="218.20" y2="57.30" stroke="#1c1c1c" stroke-width="1.00"/>
<line x1="215.50" y1="54.28" x2="217.10" y2="54.28" stroke="#1c1c1c" stroke-width="1.00"/>
<line x1="215.50" y1="51.26" x2="217.10" y2="51.26" stroke="#1c1c1c" stroke-width="1.00"/>
<line x1="215.50" y1="48.24" x2="217.10" y2="48.24" stroke="#1c1c1c" stroke-width="1.00"/>
<line x1="215.50" y1="45.22" x2="217.10" y2="45.22" stroke="#1c1c1c" stroke-width="1.00"/>
<line x1="215.50" y1="42.20" x2="218.20" y2="42.20" stroke="#1c1c1c" stroke-width="1.00"/>
<line x1="215.50" y1="39.18" x2="217.10" y2="39.18" stroke="#1c1c1c" stroke-width="1.00"/>
<line x1="215.50" y1="36.16" x2="217.10" y2="36.16" stroke="#1c1c1c" stroke-width="1.00"/>
<line x1="215.50" y1="33.14" x2="217.10" y2="33.14" stroke="#1c1c1c" stroke-width="1.00"/>
<line x1="215.50" y1="30.12" x2="217.10" y2="30.12" stroke="#1c1c1c" stroke-width="1.00"/>
<line x1="215.50" y1="27.10" x2="218.20" y2="27.10" stroke="#1c1c1c" stroke-width="1.00"/>
<line x1="215.50" y1="24.08" x2="217.10" y2="24.08" stroke="#1c1c1c" stroke-width="1.00"/>
<line x1="215.50" y1="21.06" x2="217.10" y2="21.06" stroke="#1c1c1c" stroke-width="1.00"/>
<text transform="translate(211.70,30.85) scale(1,1.080)" text-anchor="end" font-size="10.30" fill="#111111" stroke="#111111" stroke-width="0.22" >2.0</text>
<text transform="translate(211.70,45.95) scale(1,1.080)" text-anchor="end" font-size="10.30" fill="#111111" stroke="#111111" stroke-width="0.22" >1.5</text>
<text transform="translate(211.70,61.05) scale(1,1.080)" text-anchor="end" font-size="10.30" fill="#111111" stroke="#111111" stroke-width="0.22" >1.0</text>
<text transform="translate(211.70,76.15) scale(1,1.080)" text-anchor="end" font-size="10.30" fill="#111111" stroke="#111111" stroke-width="0.22" >0.5</text>
<text transform="translate(211.70,106.35) scale(1,1.080)" text-anchor="end" font-size="10.30" fill="#111111" stroke="#111111" stroke-width="0.22" >−0.5</text>
<text transform="translate(211.70,121.45) scale(1,1.080)" text-anchor="end" font-size="10.30" fill="#111111" stroke="#111111" stroke-width="0.22" >−1.0</text>
<line x1="215.20" y1="87.50" x2="215.20" y2="85.00" stroke="#1c1c1c" stroke-width="0.90"/>
<line x1="219.13" y1="87.50" x2="219.13" y2="86.20" stroke="#1c1c1c" stroke-width="0.90"/>
<line x1="223.06" y1="87.50" x2="223.06" y2="86.20" stroke="#1c1c1c" stroke-width="0.90"/>
<line x1="226.98" y1="87.50" x2="226.98" y2="86.20" stroke="#1c1c1c" stroke-width="0.90"/>
<line x1="230.91" y1="87.50" x2="230.91" y2="86.20" stroke="#1c1c1c" stroke-width="0.90"/>
<line x1="234.84" y1="87.50" x2="234.84" y2="86.20" stroke="#1c1c1c" stroke-width="0.90"/>
<line x1="238.76" y1="87.50" x2="238.76" y2="86.20" stroke="#1c1c1c" stroke-width="0.90"/>
<line x1="242.69" y1="87.50" x2="242.69" y2="86.20" stroke="#1c1c1c" stroke-width="0.90"/>
<line x1="246.62" y1="87.50" x2="246.62" y2="86.20" stroke="#1c1c1c" stroke-width="0.90"/>
<line x1="250.55" y1="87.50" x2="250.55" y2="86.20" stroke="#1c1c1c" stroke-width="0.90"/>
<line x1="254.47" y1="87.50" x2="254.47" y2="85.00" stroke="#1c1c1c" stroke-width="0.90"/>
<line x1="258.40" y1="87.50" x2="258.40" y2="86.20" stroke="#1c1c1c" stroke-width="0.90"/>
<line x1="262.33" y1="87.50" x2="262.33" y2="86.20" stroke="#1c1c1c" stroke-width="0.90"/>
<line x1="266.26" y1="87.50" x2="266.26" y2="86.20" stroke="#1c1c1c" stroke-width="0.90"/>
<line x1="270.19" y1="87.50" x2="270.19" y2="86.20" stroke="#1c1c1c" stroke-width="0.90"/>
<line x1="274.11" y1="87.50" x2="274.11" y2="86.20" stroke="#1c1c1c" stroke-width="0.90"/>
<line x1="278.04" y1="87.50" x2="278.04" y2="86.20" stroke="#1c1c1c" stroke-width="0.90"/>
<line x1="281.97" y1="87.50" x2="281.97" y2="86.20" stroke="#1c1c1c" stroke-width="0.90"/>
<line x1="285.89" y1="87.50" x2="285.89" y2="86.20" stroke="#1c1c1c" stroke-width="0.90"/>
<line x1="289.82" y1="87.50" x2="289.82" y2="86.20" stroke="#1c1c1c" stroke-width="0.90"/>
<line x1="293.75" y1="87.50" x2="293.75" y2="85.00" stroke="#1c1c1c" stroke-width="0.90"/>
<line x1="297.68" y1="87.50" x2="297.68" y2="86.20" stroke="#1c1c1c" stroke-width="0.90"/>
<line x1="301.61" y1="87.50" x2="301.61" y2="86.20" stroke="#1c1c1c" stroke-width="0.90"/>
<line x1="305.53" y1="87.50" x2="305.53" y2="86.20" stroke="#1c1c1c" stroke-width="0.90"/>
<line x1="309.46" y1="87.50" x2="309.46" y2="86.20" stroke="#1c1c1c" stroke-width="0.90"/>
<line x1="313.39" y1="87.50" x2="313.39" y2="86.20" stroke="#1c1c1c" stroke-width="0.90"/>
<line x1="317.31" y1="87.50" x2="317.31" y2="86.20" stroke="#1c1c1c" stroke-width="0.90"/>
<line x1="321.24" y1="87.50" x2="321.24" y2="86.20" stroke="#1c1c1c" stroke-width="0.90"/>
<line x1="325.17" y1="87.50" x2="325.17" y2="86.20" stroke="#1c1c1c" stroke-width="0.90"/>
<line x1="329.10" y1="87.50" x2="329.10" y2="86.20" stroke="#1c1c1c" stroke-width="0.90"/>
<line x1="333.02" y1="87.50" x2="333.02" y2="85.00" stroke="#1c1c1c" stroke-width="0.90"/>
<line x1="336.95" y1="87.50" x2="336.95" y2="86.20" stroke="#1c1c1c" stroke-width="0.90"/>
<line x1="340.88" y1="87.50" x2="340.88" y2="86.20" stroke="#1c1c1c" stroke-width="0.90"/>
<line x1="344.81" y1="87.50" x2="344.81" y2="86.20" stroke="#1c1c1c" stroke-width="0.90"/>
<line x1="348.74" y1="87.50" x2="348.74" y2="86.20" stroke="#1c1c1c" stroke-width="0.90"/>
<line x1="352.66" y1="87.50" x2="352.66" y2="86.20" stroke="#1c1c1c" stroke-width="0.90"/>
<line x1="356.59" y1="87.50" x2="356.59" y2="86.20" stroke="#1c1c1c" stroke-width="0.90"/>
<line x1="360.52" y1="87.50" x2="360.52" y2="86.20" stroke="#1c1c1c" stroke-width="0.90"/>
<line x1="364.44" y1="87.50" x2="364.44" y2="86.20" stroke="#1c1c1c" stroke-width="0.90"/>
<line x1="368.37" y1="87.50" x2="368.37" y2="86.20" stroke="#1c1c1c" stroke-width="0.90"/>
<line x1="372.30" y1="87.50" x2="372.30" y2="85.00" stroke="#1c1c1c" stroke-width="0.90"/>
<text transform="translate(254.47,100.90) scale(1,1.060)" text-anchor="middle" font-size="10.20" fill="#111111" stroke="#111111" stroke-width="0.22" >−0.05</text>
<text transform="translate(293.75,100.90) scale(1,1.060)" text-anchor="middle" font-size="10.20" fill="#111111" stroke="#111111" stroke-width="0.22" >0.00</text>
<text transform="translate(333.02,100.90) scale(1,1.060)" text-anchor="middle" font-size="10.20" fill="#111111" stroke="#111111" stroke-width="0.22" >0.05</text>
<text transform="translate(372.30,100.90) scale(1,1.060)" text-anchor="middle" font-size="10.20" fill="#111111" stroke="#111111" stroke-width="0.22" >0.10</text>
<text transform="translate(385.60,91.40) scale(1,1.120) skewX(-12.0)" text-anchor="middle" font-size="11.20" fill="#111111" stroke="#111111" stroke-width="0.22" font-style="italic">t</text>
<line x1="16.50" y1="151.90" x2="16.50" y2="242.10" stroke="#6a6a6a" stroke-width="1.00"/>
<line x1="14.10" y1="239.50" x2="158.00" y2="239.50" stroke="#6a6a6a" stroke-width="1.00"/>
<line x1="16.50" y1="239.30" x2="19.20" y2="239.30" stroke="#1c1c1c" stroke-width="1.00"/>
<line x1="16.50" y1="236.41" x2="18.10" y2="236.41" stroke="#1c1c1c" stroke-width="1.00"/>
<line x1="16.50" y1="233.51" x2="18.10" y2="233.51" stroke="#1c1c1c" stroke-width="1.00"/>
<line x1="16.50" y1="230.62" x2="18.10" y2="230.62" stroke="#1c1c1c" stroke-width="1.00"/>
<line x1="16.50" y1="227.72" x2="18.10" y2="227.72" stroke="#1c1c1c" stroke-width="1.00"/>
<line x1="16.50" y1="224.83" x2="19.20" y2="224.83" stroke="#1c1c1c" stroke-width="1.00"/>
<line x1="16.50" y1="221.93" x2="18.10" y2="221.93" stroke="#1c1c1c" stroke-width="1.00"/>
<line x1="16.50" y1="219.04" x2="18.10" y2="219.04" stroke="#1c1c1c" stroke-width="1.00"/>
<line x1="16.50" y1="216.14" x2="18.10" y2="216.14" stroke="#1c1c1c" stroke-width="1.00"/>
<line x1="16.50" y1="213.25" x2="18.10" y2="213.25" stroke="#1c1c1c" stroke-width="1.00"/>
<line x1="16.50" y1="210.35" x2="19.20" y2="210.35" stroke="#1c1c1c" stroke-width="1.00"/>
<line x1="16.50" y1="207.46" x2="18.10" y2="207.46" stroke="#1c1c1c" stroke-width="1.00"/>
<line x1="16.50" y1="204.56" x2="18.10" y2="204.56" stroke="#1c1c1c" stroke-width="1.00"/>
<line x1="16.50" y1="201.67" x2="18.10" y2="201.67" stroke="#1c1c1c" stroke-width="1.00"/>
<line x1="16.50" y1="198.77" x2="18.10" y2="198.77" stroke="#1c1c1c" stroke-width="1.00"/>
<line x1="16.50" y1="195.88" x2="19.20" y2="195.88" stroke="#1c1c1c" stroke-width="1.00"/>
<line x1="16.50" y1="192.98" x2="18.10" y2="192.98" stroke="#1c1c1c" stroke-width="1.00"/>
<line x1="16.50" y1="190.09" x2="18.10" y2="190.09" stroke="#1c1c1c" stroke-width="1.00"/>
<line x1="16.50" y1="187.19" x2="18.10" y2="187.19" stroke="#1c1c1c" stroke-width="1.00"/>
<line x1="16.50" y1="184.30" x2="18.10" y2="184.30" stroke="#1c1c1c" stroke-width="1.00"/>
<line x1="16.50" y1="181.40" x2="19.20" y2="181.40" stroke="#1c1c1c" stroke-width="1.00"/>
<line x1="16.50" y1="178.50" x2="18.10" y2="178.50" stroke="#1c1c1c" stroke-width="1.00"/>
<line x1="16.50" y1="175.61" x2="18.10" y2="175.61" stroke="#1c1c1c" stroke-width="1.00"/>
<line x1="16.50" y1="172.72" x2="18.10" y2="172.72" stroke="#1c1c1c" stroke-width="1.00"/>
<line x1="16.50" y1="169.82" x2="18.10" y2="169.82" stroke="#1c1c1c" stroke-width="1.00"/>
<line x1="16.50" y1="166.93" x2="19.20" y2="166.93" stroke="#1c1c1c" stroke-width="1.00"/>
<line x1="16.50" y1="164.03" x2="18.10" y2="164.03" stroke="#1c1c1c" stroke-width="1.00"/>
<line x1="16.50" y1="161.13" x2="18.10" y2="161.13" stroke="#1c1c1c" stroke-width="1.00"/>
<line x1="16.50" y1="158.24" x2="18.10" y2="158.24" stroke="#1c1c1c" stroke-width="1.00"/>
<line x1="16.50" y1="155.34" x2="18.10" y2="155.34" stroke="#1c1c1c" stroke-width="1.00"/>
<text transform="translate(13.05,229.13) scale(1,1.130)" text-anchor="end" font-size="10.60" fill="#111111" stroke="#111111" stroke-width="0.22" >0.5</text>
<text transform="translate(13.05,214.65) scale(1,1.130)" text-anchor="end" font-size="10.60" fill="#111111" stroke="#111111" stroke-width="0.22" >1.0</text>
<text transform="translate(13.05,200.18) scale(1,1.130)" text-anchor="end" font-size="10.60" fill="#111111" stroke="#111111" stroke-width="0.22" >1.5</text>
<text transform="translate(13.05,185.70) scale(1,1.130)" text-anchor="end" font-size="10.60" fill="#111111" stroke="#111111" stroke-width="0.22" >2.0</text>
<text transform="translate(13.05,171.23) scale(1,1.130)" text-anchor="end" font-size="10.60" fill="#111111" stroke="#111111" stroke-width="0.22" >2.5</text>
<text transform="translate(13.05,156.75) scale(1,1.130)" text-anchor="end" font-size="10.60" fill="#111111" stroke="#111111" stroke-width="0.22" >3.0</text>
<line x1="16.05" y1="239.50" x2="16.05" y2="236.80" stroke="#1c1c1c" stroke-width="1.00"/>
<line x1="23.03" y1="239.50" x2="23.03" y2="237.90" stroke="#1c1c1c" stroke-width="1.00"/>
<line x1="30.01" y1="239.50" x2="30.01" y2="237.90" stroke="#1c1c1c" stroke-width="1.00"/>
<line x1="36.99" y1="239.50" x2="36.99" y2="237.90" stroke="#1c1c1c" stroke-width="1.00"/>
<line x1="43.97" y1="239.50" x2="43.97" y2="237.90" stroke="#1c1c1c" stroke-width="1.00"/>
<line x1="50.95" y1="239.50" x2="50.95" y2="236.80" stroke="#1c1c1c" stroke-width="1.00"/>
<line x1="57.93" y1="239.50" x2="57.93" y2="237.90" stroke="#1c1c1c" stroke-width="1.00"/>
<line x1="64.91" y1="239.50" x2="64.91" y2="237.90" stroke="#1c1c1c" stroke-width="1.00"/>
<line x1="71.89" y1="239.50" x2="71.89" y2="237.90" stroke="#1c1c1c" stroke-width="1.00"/>
<line x1="78.87" y1="239.50" x2="78.87" y2="237.90" stroke="#1c1c1c" stroke-width="1.00"/>
<line x1="85.85" y1="239.50" x2="85.85" y2="236.80" stroke="#1c1c1c" stroke-width="1.00"/>
<line x1="92.83" y1="239.50" x2="92.83" y2="237.90" stroke="#1c1c1c" stroke-width="1.00"/>
<line x1="99.81" y1="239.50" x2="99.81" y2="237.90" stroke="#1c1c1c" stroke-width="1.00"/>
<line x1="106.79" y1="239.50" x2="106.79" y2="237.90" stroke="#1c1c1c" stroke-width="1.00"/>
<line x1="113.77" y1="239.50" x2="113.77" y2="237.90" stroke="#1c1c1c" stroke-width="1.00"/>
<line x1="120.75" y1="239.50" x2="120.75" y2="236.80" stroke="#1c1c1c" stroke-width="1.00"/>
<line x1="127.73" y1="239.50" x2="127.73" y2="237.90" stroke="#1c1c1c" stroke-width="1.00"/>
<line x1="134.71" y1="239.50" x2="134.71" y2="237.90" stroke="#1c1c1c" stroke-width="1.00"/>
<line x1="141.69" y1="239.50" x2="141.69" y2="237.90" stroke="#1c1c1c" stroke-width="1.00"/>
<line x1="148.67" y1="239.50" x2="148.67" y2="237.90" stroke="#1c1c1c" stroke-width="1.00"/>
<line x1="155.65" y1="239.50" x2="155.65" y2="236.80" stroke="#1c1c1c" stroke-width="1.00"/>
<text transform="translate(50.95,252.20) scale(1,1.060)" text-anchor="middle" font-size="10.20" fill="#111111" stroke="#111111" stroke-width="0.22" >−5</text>
<text transform="translate(85.85,252.20) scale(1,1.060)" text-anchor="middle" font-size="10.20" fill="#111111" stroke="#111111" stroke-width="0.22" >0</text>
<text transform="translate(120.75,252.20) scale(1,1.060)" text-anchor="middle" font-size="10.20" fill="#111111" stroke="#111111" stroke-width="0.22" >5</text>
<text transform="translate(155.65,252.20) scale(1,1.060)" text-anchor="middle" font-size="10.20" fill="#111111" stroke="#111111" stroke-width="0.22" >10</text>
<text transform="translate(168.70,242.60) scale(1,1.120) skewX(-12.0)" text-anchor="middle" font-size="11.20" fill="#111111" stroke="#111111" stroke-width="0.22" font-style="italic">t</text>
<text transform="translate(2.30,145.30) scale(1,0.950)" text-anchor="start" font-size="15.00" fill="#111111" stroke="#111111" stroke-width="0.22" >&#215;</text>
<text transform="translate(14.50,143.60) scale(1,1.130)" text-anchor="start" font-size="10.60" fill="#111111" stroke="#111111" stroke-width="0.22" >10</text>
<text transform="translate(24.90,138.60) scale(1,1.000)" text-anchor="start" font-size="8.60" fill="#111111" stroke="#111111" stroke-width="0.22" >6</text>
<line x1="220.50" y1="150.90" x2="220.50" y2="242.20" stroke="#6a6a6a" stroke-width="1.00"/>
<line x1="217.50" y1="239.50" x2="366.40" y2="239.50" stroke="#6a6a6a" stroke-width="1.00"/>
<line x1="220.50" y1="239.00" x2="223.20" y2="239.00" stroke="#1c1c1c" stroke-width="1.00"/>
<line x1="220.50" y1="235.79" x2="222.10" y2="235.79" stroke="#1c1c1c" stroke-width="1.00"/>
<line x1="220.50" y1="232.59" x2="222.10" y2="232.59" stroke="#1c1c1c" stroke-width="1.00"/>
<line x1="220.50" y1="229.38" x2="222.10" y2="229.38" stroke="#1c1c1c" stroke-width="1.00"/>
<line x1="220.50" y1="226.18" x2="223.20" y2="226.18" stroke="#1c1c1c" stroke-width="1.00"/>
<line x1="220.50" y1="222.97" x2="222.10" y2="222.97" stroke="#1c1c1c" stroke-width="1.00"/>
<line x1="220.50" y1="219.77" x2="222.10" y2="219.77" stroke="#1c1c1c" stroke-width="1.00"/>
<line x1="220.50" y1="216.56" x2="222.10" y2="216.56" stroke="#1c1c1c" stroke-width="1.00"/>
<line x1="220.50" y1="213.36" x2="223.20" y2="213.36" stroke="#1c1c1c" stroke-width="1.00"/>
<line x1="220.50" y1="210.16" x2="222.10" y2="210.16" stroke="#1c1c1c" stroke-width="1.00"/>
<line x1="220.50" y1="206.95" x2="222.10" y2="206.95" stroke="#1c1c1c" stroke-width="1.00"/>
<line x1="220.50" y1="203.75" x2="222.10" y2="203.75" stroke="#1c1c1c" stroke-width="1.00"/>
<line x1="220.50" y1="200.54" x2="223.20" y2="200.54" stroke="#1c1c1c" stroke-width="1.00"/>
<line x1="220.50" y1="197.34" x2="222.10" y2="197.34" stroke="#1c1c1c" stroke-width="1.00"/>
<line x1="220.50" y1="194.13" x2="222.10" y2="194.13" stroke="#1c1c1c" stroke-width="1.00"/>
<line x1="220.50" y1="190.93" x2="222.10" y2="190.93" stroke="#1c1c1c" stroke-width="1.00"/>
<line x1="220.50" y1="187.72" x2="223.20" y2="187.72" stroke="#1c1c1c" stroke-width="1.00"/>
<line x1="220.50" y1="184.51" x2="222.10" y2="184.51" stroke="#1c1c1c" stroke-width="1.00"/>
<line x1="220.50" y1="181.31" x2="222.10" y2="181.31" stroke="#1c1c1c" stroke-width="1.00"/>
<line x1="220.50" y1="178.10" x2="222.10" y2="178.10" stroke="#1c1c1c" stroke-width="1.00"/>
<line x1="220.50" y1="174.90" x2="223.20" y2="174.90" stroke="#1c1c1c" stroke-width="1.00"/>
<line x1="220.50" y1="171.69" x2="222.10" y2="171.69" stroke="#1c1c1c" stroke-width="1.00"/>
<line x1="220.50" y1="168.49" x2="222.10" y2="168.49" stroke="#1c1c1c" stroke-width="1.00"/>
<line x1="220.50" y1="165.28" x2="222.10" y2="165.28" stroke="#1c1c1c" stroke-width="1.00"/>
<line x1="220.50" y1="162.08" x2="223.20" y2="162.08" stroke="#1c1c1c" stroke-width="1.00"/>
<line x1="220.50" y1="158.88" x2="222.10" y2="158.88" stroke="#1c1c1c" stroke-width="1.00"/>
<line x1="220.50" y1="155.67" x2="222.10" y2="155.67" stroke="#1c1c1c" stroke-width="1.00"/>
<line x1="220.50" y1="152.47" x2="222.10" y2="152.47" stroke="#1c1c1c" stroke-width="1.00"/>
<text transform="translate(217.30,230.08) scale(1,1.130)" text-anchor="end" font-size="10.40" fill="#111111" stroke="#111111" stroke-width="0.22" >20</text>
<text transform="translate(217.30,217.26) scale(1,1.130)" text-anchor="end" font-size="10.40" fill="#111111" stroke="#111111" stroke-width="0.22" >40</text>
<text transform="translate(217.30,204.44) scale(1,1.130)" text-anchor="end" font-size="10.40" fill="#111111" stroke="#111111" stroke-width="0.22" >60</text>
<text transform="translate(217.30,191.62) scale(1,1.130)" text-anchor="end" font-size="10.40" fill="#111111" stroke="#111111" stroke-width="0.22" >80</text>
<text transform="translate(217.30,178.80) scale(1,1.130)" text-anchor="end" font-size="10.40" fill="#111111" stroke="#111111" stroke-width="0.22" >100</text>
<text transform="translate(217.30,165.98) scale(1,1.130)" text-anchor="end" font-size="10.40" fill="#111111" stroke="#111111" stroke-width="0.22" >120</text>
<line x1="221.00" y1="239.50" x2="221.00" y2="236.80" stroke="#1c1c1c" stroke-width="1.00"/>
<line x1="228.13" y1="239.50" x2="228.13" y2="237.90" stroke="#1c1c1c" stroke-width="1.00"/>
<line x1="235.26" y1="239.50" x2="235.26" y2="237.90" stroke="#1c1c1c" stroke-width="1.00"/>
<line x1="242.39" y1="239.50" x2="242.39" y2="237.90" stroke="#1c1c1c" stroke-width="1.00"/>
<line x1="249.52" y1="239.50" x2="249.52" y2="237.90" stroke="#1c1c1c" stroke-width="1.00"/>
<line x1="256.65" y1="239.50" x2="256.65" y2="236.80" stroke="#1c1c1c" stroke-width="1.00"/>
<line x1="263.78" y1="239.50" x2="263.78" y2="237.90" stroke="#1c1c1c" stroke-width="1.00"/>
<line x1="270.91" y1="239.50" x2="270.91" y2="237.90" stroke="#1c1c1c" stroke-width="1.00"/>
<line x1="278.04" y1="239.50" x2="278.04" y2="237.90" stroke="#1c1c1c" stroke-width="1.00"/>
<line x1="285.17" y1="239.50" x2="285.17" y2="237.90" stroke="#1c1c1c" stroke-width="1.00"/>
<line x1="292.30" y1="239.50" x2="292.30" y2="236.80" stroke="#1c1c1c" stroke-width="1.00"/>
<line x1="299.43" y1="239.50" x2="299.43" y2="237.90" stroke="#1c1c1c" stroke-width="1.00"/>
<line x1="306.56" y1="239.50" x2="306.56" y2="237.90" stroke="#1c1c1c" stroke-width="1.00"/>
<line x1="313.69" y1="239.50" x2="313.69" y2="237.90" stroke="#1c1c1c" stroke-width="1.00"/>
<line x1="320.82" y1="239.50" x2="320.82" y2="237.90" stroke="#1c1c1c" stroke-width="1.00"/>
<line x1="327.95" y1="239.50" x2="327.95" y2="236.80" stroke="#1c1c1c" stroke-width="1.00"/>
<line x1="335.08" y1="239.50" x2="335.08" y2="237.90" stroke="#1c1c1c" stroke-width="1.00"/>
<line x1="342.21" y1="239.50" x2="342.21" y2="237.90" stroke="#1c1c1c" stroke-width="1.00"/>
<line x1="349.34" y1="239.50" x2="349.34" y2="237.90" stroke="#1c1c1c" stroke-width="1.00"/>
<line x1="356.47" y1="239.50" x2="356.47" y2="237.90" stroke="#1c1c1c" stroke-width="1.00"/>
<line x1="363.60" y1="239.50" x2="363.60" y2="236.80" stroke="#1c1c1c" stroke-width="1.00"/>
<text transform="translate(256.45,252.50) scale(1,0.980)" text-anchor="middle" font-size="10.70" fill="#111111" stroke="#111111" stroke-width="0.22" >−0.05</text>
<text transform="translate(292.10,252.50) scale(1,0.980)" text-anchor="middle" font-size="10.70" fill="#111111" stroke="#111111" stroke-width="0.22" >0.00</text>
<text transform="translate(327.75,252.50) scale(1,0.980)" text-anchor="middle" font-size="10.70" fill="#111111" stroke="#111111" stroke-width="0.22" >0.05</text>
<text transform="translate(363.40,252.50) scale(1,0.980)" text-anchor="middle" font-size="10.70" fill="#111111" stroke="#111111" stroke-width="0.22" >0.10</text>
<text transform="translate(375.90,242.40) scale(1,1.120) skewX(-12.0)" text-anchor="middle" font-size="11.20" fill="#111111" stroke="#111111" stroke-width="0.22" font-style="italic">t</text>
</svg>
</body></html>
